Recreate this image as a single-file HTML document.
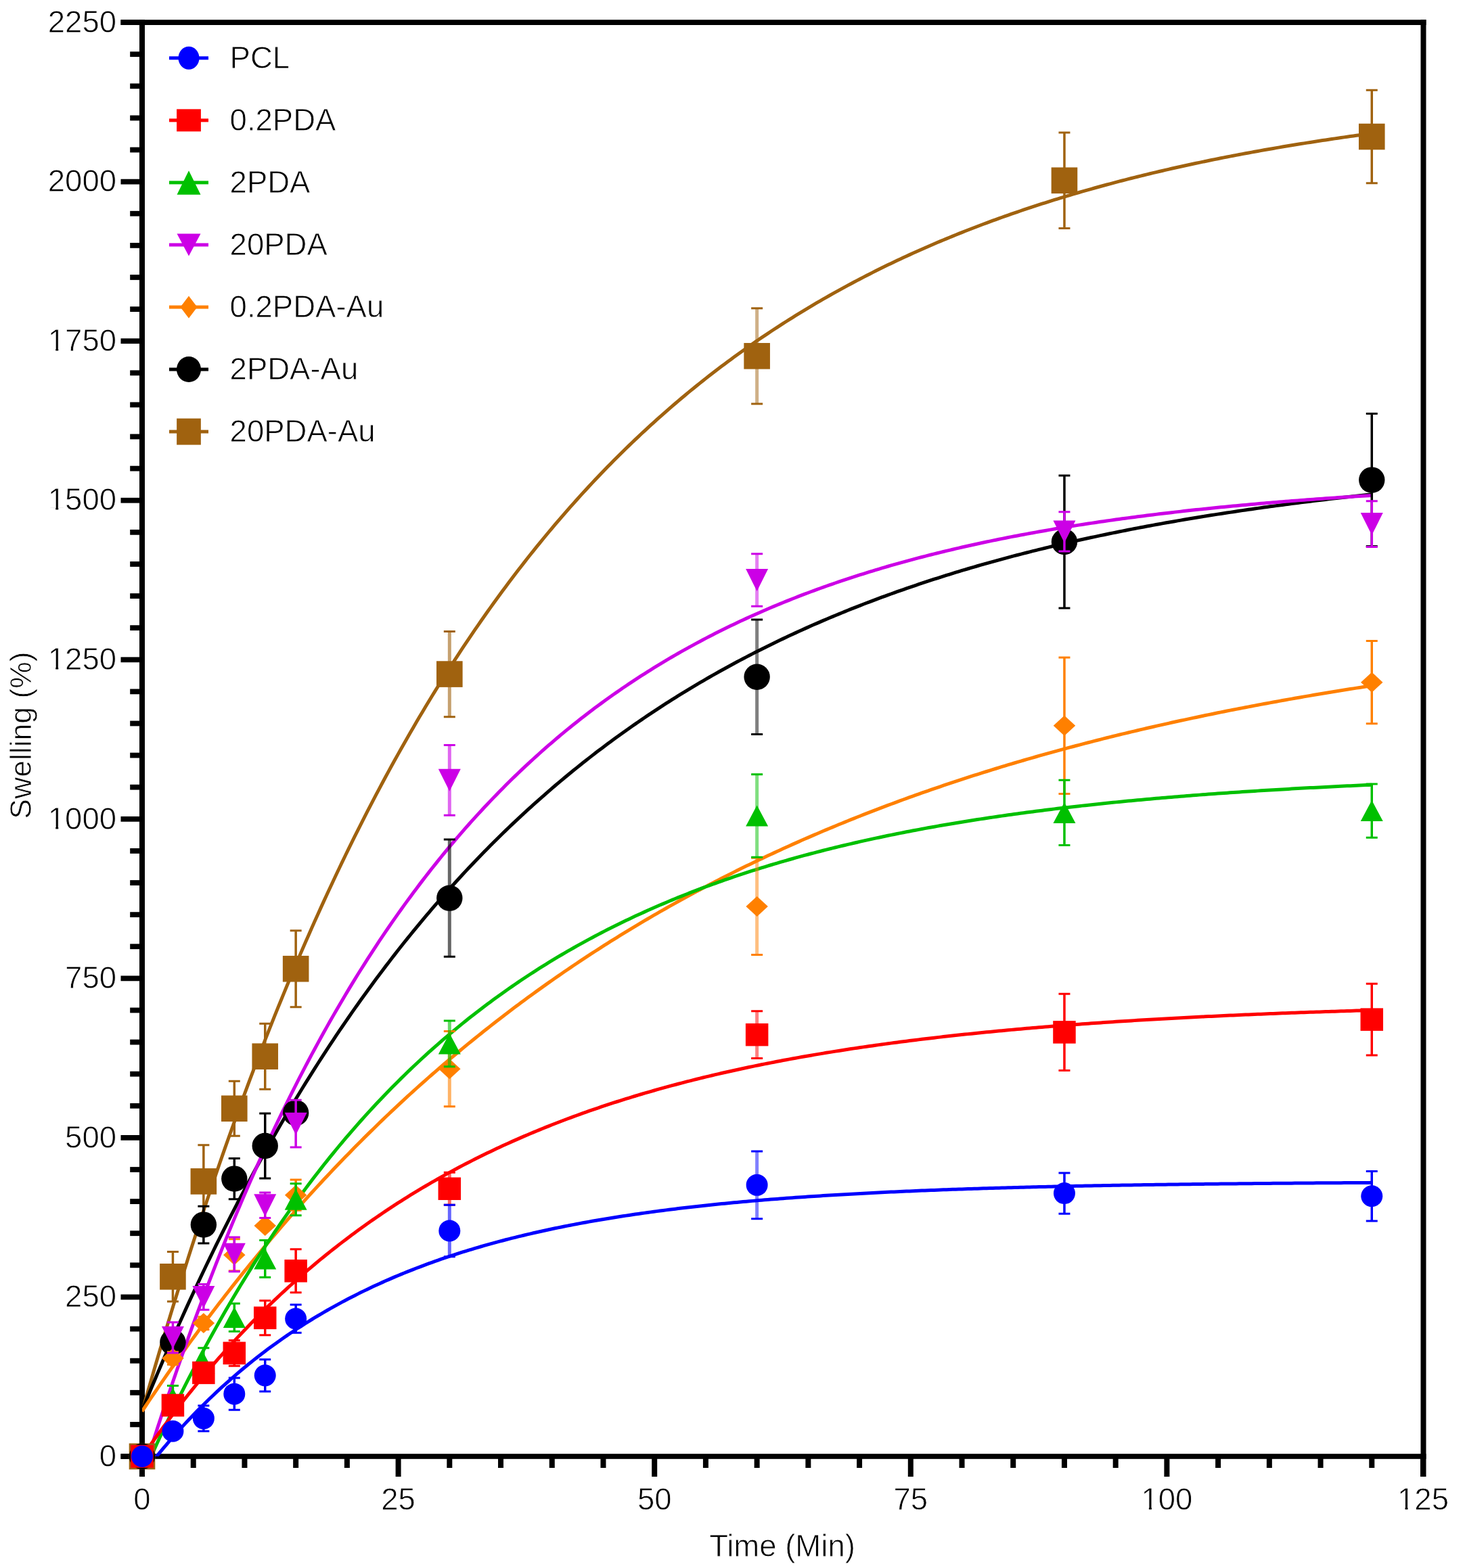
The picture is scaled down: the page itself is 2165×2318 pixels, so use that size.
<!DOCTYPE html><html><head><meta charset="utf-8"><style>html,body{margin:0;padding:0;background:#fff;}svg{display:block;}text{font-family:"Liberation Sans",Arial,sans-serif;fill:#000;stroke:#fff;stroke-width:0.8px;}</style></head><body>
<svg width="2165" height="2318" viewBox="0 0 2165 2318">
<rect width="2165" height="2318" fill="#fff"/>
<defs><clipPath id="pc"><rect x="210.0" y="33" width="1893.0" height="2120.0"/></clipPath></defs>
<g fill="#000">
<rect x="206" y="29" width="8" height="2154"/>
<rect x="2099.5" y="29" width="8" height="2154"/>
<rect x="178.5" y="29.2" width="1929.0" height="7.8"/>
<rect x="178.5" y="2149.2" width="1929.0" height="7.6"/>
<rect x="178.5" y="2149.10" width="30" height="7.8"/>
<rect x="192.2" y="2101.99" width="16" height="7.8"/>
<rect x="192.2" y="2054.88" width="16" height="7.8"/>
<rect x="192.2" y="2007.77" width="16" height="7.8"/>
<rect x="192.2" y="1960.66" width="16" height="7.8"/>
<rect x="178.5" y="1913.55" width="30" height="7.8"/>
<rect x="192.2" y="1866.45" width="16" height="7.8"/>
<rect x="192.2" y="1819.34" width="16" height="7.8"/>
<rect x="192.2" y="1772.23" width="16" height="7.8"/>
<rect x="192.2" y="1725.12" width="16" height="7.8"/>
<rect x="178.5" y="1678.01" width="30" height="7.8"/>
<rect x="192.2" y="1630.90" width="16" height="7.8"/>
<rect x="192.2" y="1583.79" width="16" height="7.8"/>
<rect x="192.2" y="1536.68" width="16" height="7.8"/>
<rect x="192.2" y="1489.57" width="16" height="7.8"/>
<rect x="178.5" y="1442.46" width="30" height="7.8"/>
<rect x="192.2" y="1395.36" width="16" height="7.8"/>
<rect x="192.2" y="1348.25" width="16" height="7.8"/>
<rect x="192.2" y="1301.14" width="16" height="7.8"/>
<rect x="192.2" y="1254.03" width="16" height="7.8"/>
<rect x="178.5" y="1206.92" width="30" height="7.8"/>
<rect x="192.2" y="1159.81" width="16" height="7.8"/>
<rect x="192.2" y="1112.70" width="16" height="7.8"/>
<rect x="192.2" y="1065.59" width="16" height="7.8"/>
<rect x="192.2" y="1018.48" width="16" height="7.8"/>
<rect x="178.5" y="971.38" width="30" height="7.8"/>
<rect x="192.2" y="924.27" width="16" height="7.8"/>
<rect x="192.2" y="877.16" width="16" height="7.8"/>
<rect x="192.2" y="830.05" width="16" height="7.8"/>
<rect x="192.2" y="782.94" width="16" height="7.8"/>
<rect x="178.5" y="735.83" width="30" height="7.8"/>
<rect x="192.2" y="688.72" width="16" height="7.8"/>
<rect x="192.2" y="641.61" width="16" height="7.8"/>
<rect x="192.2" y="594.50" width="16" height="7.8"/>
<rect x="192.2" y="547.39" width="16" height="7.8"/>
<rect x="178.5" y="500.28" width="30" height="7.8"/>
<rect x="192.2" y="453.18" width="16" height="7.8"/>
<rect x="192.2" y="406.07" width="16" height="7.8"/>
<rect x="192.2" y="358.96" width="16" height="7.8"/>
<rect x="192.2" y="311.85" width="16" height="7.8"/>
<rect x="178.5" y="264.74" width="30" height="7.8"/>
<rect x="192.2" y="217.63" width="16" height="7.8"/>
<rect x="192.2" y="170.52" width="16" height="7.8"/>
<rect x="192.2" y="123.41" width="16" height="7.8"/>
<rect x="192.2" y="76.30" width="16" height="7.8"/>
<rect x="178.5" y="29.19" width="30" height="7.8"/>
<rect x="206.00" y="2152" width="8" height="31"/>
<rect x="281.72" y="2152" width="8" height="18"/>
<rect x="357.44" y="2152" width="8" height="18"/>
<rect x="433.16" y="2152" width="8" height="18"/>
<rect x="508.88" y="2152" width="8" height="18"/>
<rect x="584.60" y="2152" width="8" height="31"/>
<rect x="660.32" y="2152" width="8" height="18"/>
<rect x="736.04" y="2152" width="8" height="18"/>
<rect x="811.76" y="2152" width="8" height="18"/>
<rect x="887.48" y="2152" width="8" height="18"/>
<rect x="963.20" y="2152" width="8" height="31"/>
<rect x="1038.92" y="2152" width="8" height="18"/>
<rect x="1114.64" y="2152" width="8" height="18"/>
<rect x="1190.36" y="2152" width="8" height="18"/>
<rect x="1266.08" y="2152" width="8" height="18"/>
<rect x="1341.80" y="2152" width="8" height="31"/>
<rect x="1417.52" y="2152" width="8" height="18"/>
<rect x="1493.24" y="2152" width="8" height="18"/>
<rect x="1568.96" y="2152" width="8" height="18"/>
<rect x="1644.68" y="2152" width="8" height="18"/>
<rect x="1720.40" y="2152" width="8" height="31"/>
<rect x="1796.12" y="2152" width="8" height="18"/>
<rect x="1871.84" y="2152" width="8" height="18"/>
<rect x="1947.56" y="2152" width="8" height="18"/>
<rect x="2023.28" y="2152" width="8" height="18"/>
<rect x="2099.00" y="2152" width="8" height="31"/>
</g>
<g clip-path="url(#pc)" fill="none" stroke-width="5" stroke-linejoin="round">
<path d="M210.00,2087.08 L214.55,2070.99 L219.11,2055.03 L223.66,2039.20 L228.22,2023.51 L232.77,2007.94 L237.33,1992.49 L241.88,1977.18 L246.44,1961.99 L250.99,1946.92 L255.55,1931.98 L260.10,1917.16 L264.66,1902.46 L269.21,1887.88 L273.76,1873.43 L278.32,1859.09 L282.87,1844.86 L287.43,1830.76 L291.98,1816.77 L296.54,1802.89 L301.09,1789.13 L305.65,1775.48 L310.20,1761.94 L314.76,1748.52 L319.31,1735.20 L323.86,1721.99 L328.42,1708.89 L332.97,1695.90 L337.53,1683.02 L342.08,1670.24 L346.64,1657.56 L351.19,1644.99 L355.75,1632.52 L360.30,1620.16 L364.86,1607.89 L369.41,1595.73 L373.97,1583.67 L378.52,1571.70 L383.07,1559.83 L387.63,1548.06 L392.18,1536.39 L396.74,1524.81 L401.29,1513.33 L405.85,1501.94 L410.40,1490.64 L414.96,1479.44 L419.51,1468.33 L424.07,1457.31 L428.62,1446.38 L433.17,1435.54 L437.73,1424.79 L442.28,1414.13 L446.84,1403.55 L451.39,1393.06 L455.95,1382.66 L460.50,1372.34 L465.06,1362.10 L469.61,1351.96 L474.17,1341.89 L478.72,1331.90 L483.28,1322.00 L487.83,1312.18 L492.38,1302.44 L496.94,1292.78 L501.49,1283.20 L506.05,1273.70 L510.60,1264.27 L515.16,1254.92 L519.71,1245.65 L524.27,1236.46 L528.82,1227.34 L533.38,1218.29 L537.93,1209.32 L542.48,1200.42 L547.04,1191.60 L551.59,1182.85 L556.15,1174.16 L560.70,1165.56 L565.26,1157.02 L569.81,1148.55 L574.37,1140.15 L578.92,1131.82 L583.48,1123.55 L588.03,1115.36 L592.59,1107.23 L597.14,1099.17 L601.69,1091.18 L606.25,1083.25 L610.80,1075.38 L615.36,1067.58 L619.91,1059.85 L624.47,1052.17 L629.02,1044.56 L633.58,1037.02 L638.13,1029.53 L642.69,1022.11 L647.24,1014.74 L651.79,1007.44 L656.35,1000.20 L660.90,993.01 L665.46,985.89 L670.01,978.82 L674.57,971.81 L679.12,964.86 L683.68,957.97 L688.23,951.13 L692.79,944.35 L697.34,937.62 L701.90,930.95 L706.45,924.34 L711.00,917.77 L715.56,911.26 L720.11,904.81 L724.67,898.41 L729.22,892.06 L733.78,885.76 L738.33,879.51 L742.89,873.32 L747.44,867.18 L752.00,861.08 L756.55,855.04 L761.10,849.04 L765.66,843.10 L770.21,837.20 L774.77,831.35 L779.32,825.55 L783.88,819.80 L788.43,814.10 L792.99,808.44 L797.54,802.83 L802.10,797.26 L806.65,791.74 L811.21,786.26 L815.76,780.83 L820.31,775.45 L824.87,770.10 L829.42,764.81 L833.98,759.55 L838.53,754.34 L843.09,749.17 L847.64,744.04 L852.20,738.96 L856.75,733.92 L861.31,728.91 L865.86,723.95 L870.42,719.03 L874.97,714.15 L879.52,709.31 L884.08,704.51 L888.63,699.75 L893.19,695.03 L897.74,690.35 L902.30,685.70 L906.85,681.10 L911.41,676.53 L915.96,672.00 L920.52,667.50 L925.07,663.05 L929.62,658.63 L934.18,654.24 L938.73,649.89 L943.29,645.58 L947.84,641.30 L952.40,637.06 L956.95,632.85 L961.51,628.68 L966.06,624.54 L970.62,620.43 L975.17,616.36 L979.73,612.32 L984.28,608.32 L988.83,604.35 L993.39,600.41 L997.94,596.50 L1002.50,592.62 L1007.05,588.78 L1011.61,584.97 L1016.16,581.19 L1020.72,577.44 L1025.27,573.72 L1029.83,570.03 L1034.38,566.37 L1038.93,562.74 L1043.49,559.14 L1048.04,555.57 L1052.60,552.03 L1057.15,548.52 L1061.71,545.04 L1066.26,541.59 L1070.82,538.16 L1075.37,534.76 L1079.93,531.39 L1084.48,528.05 L1089.04,524.74 L1093.59,521.45 L1098.14,518.19 L1102.70,514.95 L1107.25,511.75 L1111.81,508.57 L1116.36,505.41 L1120.92,502.28 L1125.47,499.18 L1130.03,496.10 L1134.58,493.05 L1139.14,490.02 L1143.69,487.02 L1148.24,484.04 L1152.80,481.09 L1157.35,478.16 L1161.91,475.25 L1166.46,472.37 L1171.02,469.51 L1175.57,466.68 L1180.13,463.86 L1184.68,461.08 L1189.24,458.31 L1193.79,455.57 L1198.35,452.85 L1202.90,450.15 L1207.45,447.47 L1212.01,444.82 L1216.56,442.18 L1221.12,439.57 L1225.67,436.98 L1230.23,434.42 L1234.78,431.87 L1239.34,429.34 L1243.89,426.84 L1248.45,424.35 L1253.00,421.89 L1257.55,419.44 L1262.11,417.02 L1266.66,414.61 L1271.22,412.23 L1275.77,409.86 L1280.33,407.52 L1284.88,405.19 L1289.44,402.88 L1293.99,400.59 L1298.55,398.32 L1303.10,396.07 L1307.66,393.84 L1312.21,391.62 L1316.76,389.43 L1321.32,387.25 L1325.87,385.09 L1330.43,382.95 L1334.98,380.82 L1339.54,378.71 L1344.09,376.62 L1348.65,374.55 L1353.20,372.49 L1357.76,370.45 L1362.31,368.43 L1366.86,366.42 L1371.42,364.43 L1375.97,362.46 L1380.53,360.50 L1385.08,358.56 L1389.64,356.63 L1394.19,354.72 L1398.75,352.83 L1403.30,350.95 L1407.86,349.09 L1412.41,347.24 L1416.97,345.41 L1421.52,343.59 L1426.07,341.79 L1430.63,340.00 L1435.18,338.23 L1439.74,336.47 L1444.29,334.72 L1448.85,332.99 L1453.40,331.28 L1457.96,329.57 L1462.51,327.89 L1467.07,326.21 L1471.62,324.55 L1476.18,322.90 L1480.73,321.27 L1485.28,319.65 L1489.84,318.04 L1494.39,316.45 L1498.95,314.87 L1503.50,313.30 L1508.06,311.75 L1512.61,310.21 L1517.17,308.68 L1521.72,307.16 L1526.28,305.66 L1530.83,304.16 L1535.38,302.68 L1539.94,301.22 L1544.49,299.76 L1549.05,298.32 L1553.60,296.88 L1558.16,295.46 L1562.71,294.06 L1567.27,292.66 L1571.82,291.27 L1576.38,289.90 L1580.93,288.54 L1585.49,287.18 L1590.04,285.84 L1594.59,284.51 L1599.15,283.20 L1603.70,281.89 L1608.26,280.59 L1612.81,279.30 L1617.37,278.03 L1621.92,276.76 L1626.48,275.51 L1631.03,274.26 L1635.59,273.03 L1640.14,271.80 L1644.69,270.59 L1649.25,269.38 L1653.80,268.19 L1658.36,267.00 L1662.91,265.83 L1667.47,264.66 L1672.02,263.51 L1676.58,262.36 L1681.13,261.22 L1685.69,260.09 L1690.24,258.98 L1694.80,257.87 L1699.35,256.77 L1703.90,255.68 L1708.46,254.59 L1713.01,253.52 L1717.57,252.45 L1722.12,251.40 L1726.68,250.35 L1731.23,249.31 L1735.79,248.28 L1740.34,247.26 L1744.90,246.25 L1749.45,245.24 L1754.00,244.24 L1758.56,243.26 L1763.11,242.27 L1767.67,241.30 L1772.22,240.34 L1776.78,239.38 L1781.33,238.43 L1785.89,237.49 L1790.44,236.56 L1795.00,235.63 L1799.55,234.71 L1804.11,233.80 L1808.66,232.90 L1813.21,232.00 L1817.77,231.12 L1822.32,230.23 L1826.88,229.36 L1831.43,228.49 L1835.99,227.63 L1840.54,226.78 L1845.10,225.94 L1849.65,225.10 L1854.21,224.27 L1858.76,223.44 L1863.31,222.62 L1867.87,221.81 L1872.42,221.01 L1876.98,220.21 L1881.53,219.42 L1886.09,218.63 L1890.64,217.85 L1895.20,217.08 L1899.75,216.31 L1904.31,215.55 L1908.86,214.80 L1913.42,214.05 L1917.97,213.31 L1922.52,212.58 L1927.08,211.85 L1931.63,211.12 L1936.19,210.41 L1940.74,209.69 L1945.30,208.99 L1949.85,208.29 L1954.41,207.59 L1958.96,206.91 L1963.52,206.22 L1968.07,205.55 L1972.62,204.87 L1977.18,204.21 L1981.73,203.55 L1986.29,202.89 L1990.84,202.24 L1995.40,201.60 L1999.95,200.96 L2004.51,200.32 L2009.06,199.70 L2013.62,199.07 L2018.17,198.45 L2022.73,197.84 L2027.28,197.23" stroke="#A0620F"/>
<path d="M210.00,2085.16 L214.55,2074.03 L219.11,2062.99 L223.66,2052.04 L228.22,2041.18 L232.77,2030.40 L237.33,2019.71 L241.88,2009.09 L246.44,1998.57 L250.99,1988.12 L255.55,1977.76 L260.10,1967.48 L264.66,1957.28 L269.21,1947.16 L273.76,1937.12 L278.32,1927.16 L282.87,1917.28 L287.43,1907.47 L291.98,1897.74 L296.54,1888.09 L301.09,1878.52 L305.65,1869.02 L310.20,1859.59 L314.76,1850.24 L319.31,1840.96 L323.86,1831.76 L328.42,1822.62 L332.97,1813.56 L337.53,1804.57 L342.08,1795.65 L346.64,1786.80 L351.19,1778.02 L355.75,1769.31 L360.30,1760.67 L364.86,1752.10 L369.41,1743.59 L373.97,1735.15 L378.52,1726.78 L383.07,1718.47 L387.63,1710.23 L392.18,1702.05 L396.74,1693.94 L401.29,1685.89 L405.85,1677.90 L410.40,1669.98 L414.96,1662.12 L419.51,1654.32 L424.07,1646.58 L428.62,1638.91 L433.17,1631.29 L437.73,1623.73 L442.28,1616.23 L446.84,1608.80 L451.39,1601.42 L455.95,1594.09 L460.50,1586.83 L465.06,1579.62 L469.61,1572.47 L474.17,1565.38 L478.72,1558.34 L483.28,1551.36 L487.83,1544.43 L492.38,1537.55 L496.94,1530.73 L501.49,1523.97 L506.05,1517.26 L510.60,1510.59 L515.16,1503.99 L519.71,1497.43 L524.27,1490.93 L528.82,1484.47 L533.38,1478.07 L537.93,1471.72 L542.48,1465.42 L547.04,1459.16 L551.59,1452.96 L556.15,1446.81 L560.70,1440.70 L565.26,1434.64 L569.81,1428.63 L574.37,1422.67 L578.92,1416.75 L583.48,1410.88 L588.03,1405.06 L592.59,1399.28 L597.14,1393.55 L601.69,1387.86 L606.25,1382.22 L610.80,1376.62 L615.36,1371.06 L619.91,1365.55 L624.47,1360.08 L629.02,1354.66 L633.58,1349.28 L638.13,1343.94 L642.69,1338.64 L647.24,1333.38 L651.79,1328.17 L656.35,1323.00 L660.90,1317.86 L665.46,1312.77 L670.01,1307.72 L674.57,1302.71 L679.12,1297.73 L683.68,1292.80 L688.23,1287.90 L692.79,1283.05 L697.34,1278.23 L701.90,1273.45 L706.45,1268.70 L711.00,1264.00 L715.56,1259.33 L720.11,1254.69 L724.67,1250.10 L729.22,1245.54 L733.78,1241.01 L738.33,1236.53 L742.89,1232.07 L747.44,1227.65 L752.00,1223.27 L756.55,1218.92 L761.10,1214.61 L765.66,1210.33 L770.21,1206.08 L774.77,1201.87 L779.32,1197.69 L783.88,1193.54 L788.43,1189.42 L792.99,1185.34 L797.54,1181.29 L802.10,1177.27 L806.65,1173.28 L811.21,1169.33 L815.76,1165.40 L820.31,1161.51 L824.87,1157.65 L829.42,1153.81 L833.98,1150.01 L838.53,1146.24 L843.09,1142.49 L847.64,1138.78 L852.20,1135.09 L856.75,1131.44 L861.31,1127.81 L865.86,1124.21 L870.42,1120.64 L874.97,1117.10 L879.52,1113.59 L884.08,1110.10 L888.63,1106.64 L893.19,1103.21 L897.74,1099.80 L902.30,1096.43 L906.85,1093.07 L911.41,1089.75 L915.96,1086.45 L920.52,1083.18 L925.07,1079.93 L929.62,1076.71 L934.18,1073.51 L938.73,1070.34 L943.29,1067.19 L947.84,1064.07 L952.40,1060.97 L956.95,1057.90 L961.51,1054.85 L966.06,1051.83 L970.62,1048.83 L975.17,1045.85 L979.73,1042.89 L984.28,1039.96 L988.83,1037.06 L993.39,1034.17 L997.94,1031.31 L1002.50,1028.47 L1007.05,1025.65 L1011.61,1022.86 L1016.16,1020.08 L1020.72,1017.33 L1025.27,1014.60 L1029.83,1011.89 L1034.38,1009.21 L1038.93,1006.54 L1043.49,1003.90 L1048.04,1001.27 L1052.60,998.67 L1057.15,996.08 L1061.71,993.52 L1066.26,990.98 L1070.82,988.46 L1075.37,985.95 L1079.93,983.47 L1084.48,981.01 L1089.04,978.56 L1093.59,976.14 L1098.14,973.73 L1102.70,971.35 L1107.25,968.98 L1111.81,966.63 L1116.36,964.30 L1120.92,961.98 L1125.47,959.69 L1130.03,957.41 L1134.58,955.15 L1139.14,952.91 L1143.69,950.69 L1148.24,948.48 L1152.80,946.29 L1157.35,944.12 L1161.91,941.97 L1166.46,939.83 L1171.02,937.71 L1175.57,935.61 L1180.13,933.52 L1184.68,931.45 L1189.24,929.39 L1193.79,927.36 L1198.35,925.33 L1202.90,923.33 L1207.45,921.34 L1212.01,919.36 L1216.56,917.40 L1221.12,915.46 L1225.67,913.53 L1230.23,911.61 L1234.78,909.72 L1239.34,907.83 L1243.89,905.96 L1248.45,904.11 L1253.00,902.27 L1257.55,900.44 L1262.11,898.63 L1266.66,896.84 L1271.22,895.05 L1275.77,893.29 L1280.33,891.53 L1284.88,889.79 L1289.44,888.06 L1293.99,886.35 L1298.55,884.65 L1303.10,882.96 L1307.66,881.29 L1312.21,879.63 L1316.76,877.98 L1321.32,876.35 L1325.87,874.73 L1330.43,873.12 L1334.98,871.52 L1339.54,869.94 L1344.09,868.37 L1348.65,866.81 L1353.20,865.26 L1357.76,863.73 L1362.31,862.21 L1366.86,860.70 L1371.42,859.20 L1375.97,857.71 L1380.53,856.24 L1385.08,854.77 L1389.64,853.32 L1394.19,851.88 L1398.75,850.45 L1403.30,849.03 L1407.86,847.63 L1412.41,846.23 L1416.97,844.85 L1421.52,843.47 L1426.07,842.11 L1430.63,840.76 L1435.18,839.42 L1439.74,838.08 L1444.29,836.76 L1448.85,835.45 L1453.40,834.15 L1457.96,832.86 L1462.51,831.58 L1467.07,830.32 L1471.62,829.06 L1476.18,827.81 L1480.73,826.57 L1485.28,825.34 L1489.84,824.12 L1494.39,822.91 L1498.95,821.70 L1503.50,820.51 L1508.06,819.33 L1512.61,818.16 L1517.17,816.99 L1521.72,815.84 L1526.28,814.69 L1530.83,813.56 L1535.38,812.43 L1539.94,811.31 L1544.49,810.20 L1549.05,809.10 L1553.60,808.00 L1558.16,806.92 L1562.71,805.85 L1567.27,804.78 L1571.82,803.72 L1576.38,802.67 L1580.93,801.63 L1585.49,800.59 L1590.04,799.57 L1594.59,798.55 L1599.15,797.54 L1603.70,796.54 L1608.26,795.54 L1612.81,794.56 L1617.37,793.58 L1621.92,792.61 L1626.48,791.65 L1631.03,790.69 L1635.59,789.74 L1640.14,788.80 L1644.69,787.87 L1649.25,786.94 L1653.80,786.02 L1658.36,785.11 L1662.91,784.21 L1667.47,783.31 L1672.02,782.42 L1676.58,781.54 L1681.13,780.66 L1685.69,779.79 L1690.24,778.93 L1694.80,778.08 L1699.35,777.23 L1703.90,776.38 L1708.46,775.55 L1713.01,774.72 L1717.57,773.90 L1722.12,773.08 L1726.68,772.27 L1731.23,771.47 L1735.79,770.67 L1740.34,769.88 L1744.90,769.10 L1749.45,768.32 L1754.00,767.55 L1758.56,766.78 L1763.11,766.02 L1767.67,765.27 L1772.22,764.52 L1776.78,763.78 L1781.33,763.04 L1785.89,762.31 L1790.44,761.58 L1795.00,760.87 L1799.55,760.15 L1804.11,759.44 L1808.66,758.74 L1813.21,758.05 L1817.77,757.35 L1822.32,756.67 L1826.88,755.99 L1831.43,755.31 L1835.99,754.64 L1840.54,753.98 L1845.10,753.32 L1849.65,752.66 L1854.21,752.02 L1858.76,751.37 L1863.31,750.73 L1867.87,750.10 L1872.42,749.47 L1876.98,748.85 L1881.53,748.23 L1886.09,747.61 L1890.64,747.00 L1895.20,746.40 L1899.75,745.80 L1904.31,745.20 L1908.86,744.61 L1913.42,744.03 L1917.97,743.45 L1922.52,742.87 L1927.08,742.30 L1931.63,741.73 L1936.19,741.17 L1940.74,740.61 L1945.30,740.06 L1949.85,739.51 L1954.41,738.96 L1958.96,738.42 L1963.52,737.88 L1968.07,737.35 L1972.62,736.82 L1977.18,736.30 L1981.73,735.78 L1986.29,735.26 L1990.84,734.75 L1995.40,734.24 L1999.95,733.73 L2004.51,733.23 L2009.06,732.74 L2013.62,732.25 L2018.17,731.76 L2022.73,731.27 L2027.28,730.79" stroke="#000000"/>
<path d="M210.00,2086.32 L214.55,2079.49 L219.11,2072.70 L223.66,2065.95 L228.22,2059.24 L232.77,2052.57 L237.33,2045.93 L241.88,2039.33 L246.44,2032.77 L250.99,2026.25 L255.55,2019.77 L260.10,2013.32 L264.66,2006.91 L269.21,2000.53 L273.76,1994.19 L278.32,1987.89 L282.87,1981.63 L287.43,1975.40 L291.98,1969.20 L296.54,1963.04 L301.09,1956.92 L305.65,1950.83 L310.20,1944.78 L314.76,1938.76 L319.31,1932.77 L323.86,1926.82 L328.42,1920.91 L332.97,1915.03 L337.53,1909.18 L342.08,1903.36 L346.64,1897.58 L351.19,1891.83 L355.75,1886.11 L360.30,1880.43 L364.86,1874.78 L369.41,1869.16 L373.97,1863.57 L378.52,1858.02 L383.07,1852.50 L387.63,1847.01 L392.18,1841.55 L396.74,1836.12 L401.29,1830.72 L405.85,1825.35 L410.40,1820.02 L414.96,1814.71 L419.51,1809.44 L424.07,1804.19 L428.62,1798.98 L433.17,1793.79 L437.73,1788.64 L442.28,1783.51 L446.84,1778.42 L451.39,1773.35 L455.95,1768.31 L460.50,1763.30 L465.06,1758.32 L469.61,1753.37 L474.17,1748.44 L478.72,1743.55 L483.28,1738.68 L487.83,1733.84 L492.38,1729.03 L496.94,1724.24 L501.49,1719.49 L506.05,1714.76 L510.60,1710.05 L515.16,1705.38 L519.71,1700.73 L524.27,1696.10 L528.82,1691.51 L533.38,1686.94 L537.93,1682.39 L542.48,1677.88 L547.04,1673.38 L551.59,1668.92 L556.15,1664.48 L560.70,1660.06 L565.26,1655.67 L569.81,1651.30 L574.37,1646.96 L578.92,1642.65 L583.48,1638.36 L588.03,1634.09 L592.59,1629.85 L597.14,1625.63 L601.69,1621.44 L606.25,1617.27 L610.80,1613.13 L615.36,1609.00 L619.91,1604.91 L624.47,1600.83 L629.02,1596.78 L633.58,1592.75 L638.13,1588.75 L642.69,1584.76 L647.24,1580.80 L651.79,1576.87 L656.35,1572.95 L660.90,1569.06 L665.46,1565.19 L670.01,1561.34 L674.57,1557.52 L679.12,1553.72 L683.68,1549.93 L688.23,1546.17 L692.79,1542.43 L697.34,1538.72 L701.90,1535.02 L706.45,1531.35 L711.00,1527.69 L715.56,1524.06 L720.11,1520.45 L724.67,1516.86 L729.22,1513.28 L733.78,1509.73 L738.33,1506.20 L742.89,1502.69 L747.44,1499.20 L752.00,1495.73 L756.55,1492.28 L761.10,1488.85 L765.66,1485.44 L770.21,1482.05 L774.77,1478.68 L779.32,1475.33 L783.88,1471.99 L788.43,1468.68 L792.99,1465.38 L797.54,1462.11 L802.10,1458.85 L806.65,1455.61 L811.21,1452.39 L815.76,1449.19 L820.31,1446.00 L824.87,1442.84 L829.42,1439.69 L833.98,1436.56 L838.53,1433.45 L843.09,1430.36 L847.64,1427.28 L852.20,1424.22 L856.75,1421.18 L861.31,1418.16 L865.86,1415.15 L870.42,1412.16 L874.97,1409.19 L879.52,1406.23 L884.08,1403.30 L888.63,1400.37 L893.19,1397.47 L897.74,1394.58 L902.30,1391.71 L906.85,1388.85 L911.41,1386.02 L915.96,1383.19 L920.52,1380.39 L925.07,1377.60 L929.62,1374.82 L934.18,1372.06 L938.73,1369.32 L943.29,1366.59 L947.84,1363.88 L952.40,1361.19 L956.95,1358.51 L961.51,1355.84 L966.06,1353.19 L970.62,1350.56 L975.17,1347.94 L979.73,1345.33 L984.28,1342.74 L988.83,1340.17 L993.39,1337.61 L997.94,1335.06 L1002.50,1332.53 L1007.05,1330.01 L1011.61,1327.51 L1016.16,1325.03 L1020.72,1322.55 L1025.27,1320.09 L1029.83,1317.65 L1034.38,1315.22 L1038.93,1312.80 L1043.49,1310.39 L1048.04,1308.00 L1052.60,1305.63 L1057.15,1303.27 L1061.71,1300.92 L1066.26,1298.58 L1070.82,1296.26 L1075.37,1293.95 L1079.93,1291.65 L1084.48,1289.37 L1089.04,1287.10 L1093.59,1284.84 L1098.14,1282.60 L1102.70,1280.37 L1107.25,1278.15 L1111.81,1275.95 L1116.36,1273.75 L1120.92,1271.57 L1125.47,1269.41 L1130.03,1267.25 L1134.58,1265.11 L1139.14,1262.98 L1143.69,1260.86 L1148.24,1258.75 L1152.80,1256.66 L1157.35,1254.57 L1161.91,1252.50 L1166.46,1250.45 L1171.02,1248.40 L1175.57,1246.36 L1180.13,1244.34 L1184.68,1242.33 L1189.24,1240.33 L1193.79,1238.34 L1198.35,1236.36 L1202.90,1234.39 L1207.45,1232.44 L1212.01,1230.50 L1216.56,1228.56 L1221.12,1226.64 L1225.67,1224.73 L1230.23,1222.83 L1234.78,1220.94 L1239.34,1219.06 L1243.89,1217.20 L1248.45,1215.34 L1253.00,1213.49 L1257.55,1211.66 L1262.11,1209.83 L1266.66,1208.02 L1271.22,1206.21 L1275.77,1204.42 L1280.33,1202.64 L1284.88,1200.86 L1289.44,1199.10 L1293.99,1197.35 L1298.55,1195.60 L1303.10,1193.87 L1307.66,1192.15 L1312.21,1190.43 L1316.76,1188.73 L1321.32,1187.04 L1325.87,1185.35 L1330.43,1183.68 L1334.98,1182.01 L1339.54,1180.36 L1344.09,1178.71 L1348.65,1177.07 L1353.20,1175.45 L1357.76,1173.83 L1362.31,1172.22 L1366.86,1170.62 L1371.42,1169.03 L1375.97,1167.45 L1380.53,1165.88 L1385.08,1164.32 L1389.64,1162.76 L1394.19,1161.22 L1398.75,1159.68 L1403.30,1158.15 L1407.86,1156.63 L1412.41,1155.12 L1416.97,1153.62 L1421.52,1152.13 L1426.07,1150.64 L1430.63,1149.17 L1435.18,1147.70 L1439.74,1146.24 L1444.29,1144.79 L1448.85,1143.35 L1453.40,1141.91 L1457.96,1140.49 L1462.51,1139.07 L1467.07,1137.66 L1471.62,1136.26 L1476.18,1134.86 L1480.73,1133.48 L1485.28,1132.10 L1489.84,1130.73 L1494.39,1129.37 L1498.95,1128.01 L1503.50,1126.67 L1508.06,1125.33 L1512.61,1124.00 L1517.17,1122.67 L1521.72,1121.36 L1526.28,1120.05 L1530.83,1118.75 L1535.38,1117.46 L1539.94,1116.17 L1544.49,1114.89 L1549.05,1113.62 L1553.60,1112.36 L1558.16,1111.10 L1562.71,1109.85 L1567.27,1108.61 L1571.82,1107.37 L1576.38,1106.14 L1580.93,1104.92 L1585.49,1103.71 L1590.04,1102.50 L1594.59,1101.30 L1599.15,1100.10 L1603.70,1098.92 L1608.26,1097.74 L1612.81,1096.56 L1617.37,1095.40 L1621.92,1094.24 L1626.48,1093.08 L1631.03,1091.94 L1635.59,1090.80 L1640.14,1089.66 L1644.69,1088.54 L1649.25,1087.42 L1653.80,1086.30 L1658.36,1085.19 L1662.91,1084.09 L1667.47,1083.00 L1672.02,1081.91 L1676.58,1080.83 L1681.13,1079.75 L1685.69,1078.68 L1690.24,1077.61 L1694.80,1076.56 L1699.35,1075.50 L1703.90,1074.46 L1708.46,1073.42 L1713.01,1072.38 L1717.57,1071.36 L1722.12,1070.33 L1726.68,1069.32 L1731.23,1068.31 L1735.79,1067.30 L1740.34,1066.30 L1744.90,1065.31 L1749.45,1064.32 L1754.00,1063.34 L1758.56,1062.36 L1763.11,1061.39 L1767.67,1060.43 L1772.22,1059.47 L1776.78,1058.51 L1781.33,1057.56 L1785.89,1056.62 L1790.44,1055.68 L1795.00,1054.75 L1799.55,1053.82 L1804.11,1052.90 L1808.66,1051.98 L1813.21,1051.07 L1817.77,1050.16 L1822.32,1049.26 L1826.88,1048.37 L1831.43,1047.48 L1835.99,1046.59 L1840.54,1045.71 L1845.10,1044.83 L1849.65,1043.96 L1854.21,1043.10 L1858.76,1042.24 L1863.31,1041.38 L1867.87,1040.53 L1872.42,1039.68 L1876.98,1038.84 L1881.53,1038.01 L1886.09,1037.18 L1890.64,1036.35 L1895.20,1035.53 L1899.75,1034.71 L1904.31,1033.90 L1908.86,1033.09 L1913.42,1032.28 L1917.97,1031.49 L1922.52,1030.69 L1927.08,1029.90 L1931.63,1029.12 L1936.19,1028.34 L1940.74,1027.56 L1945.30,1026.79 L1949.85,1026.02 L1954.41,1025.26 L1958.96,1024.50 L1963.52,1023.74 L1968.07,1022.99 L1972.62,1022.25 L1977.18,1021.51 L1981.73,1020.77 L1986.29,1020.04 L1990.84,1019.31 L1995.40,1018.58 L1999.95,1017.86 L2004.51,1017.15 L2009.06,1016.43 L2013.62,1015.73 L2018.17,1015.02 L2022.73,1014.32 L2027.28,1013.63" stroke="#FF8000"/>
<path d="M210.00,2182.70 L214.55,2168.05 L219.11,2153.54 L223.66,2139.18 L228.22,2124.96 L232.77,2110.88 L237.33,2096.94 L241.88,2083.14 L246.44,2069.47 L250.99,2055.94 L255.55,2042.55 L260.10,2029.29 L264.66,2016.15 L269.21,2003.15 L273.76,1990.28 L278.32,1977.54 L282.87,1964.92 L287.43,1952.43 L291.98,1940.06 L296.54,1927.81 L301.09,1915.69 L305.65,1903.68 L310.20,1891.80 L314.76,1880.03 L319.31,1868.38 L323.86,1856.84 L328.42,1845.42 L332.97,1834.11 L337.53,1822.91 L342.08,1811.83 L346.64,1800.85 L351.19,1789.99 L355.75,1779.23 L360.30,1768.58 L364.86,1758.03 L369.41,1747.59 L373.97,1737.25 L378.52,1727.01 L383.07,1716.88 L387.63,1706.84 L392.18,1696.91 L396.74,1687.07 L401.29,1677.33 L405.85,1667.69 L410.40,1658.15 L414.96,1648.69 L419.51,1639.34 L424.07,1630.07 L428.62,1620.90 L433.17,1611.81 L437.73,1602.82 L442.28,1593.92 L446.84,1585.10 L451.39,1576.37 L455.95,1567.73 L460.50,1559.18 L465.06,1550.71 L469.61,1542.32 L474.17,1534.02 L478.72,1525.79 L483.28,1517.65 L487.83,1509.60 L492.38,1501.62 L496.94,1493.72 L501.49,1485.89 L506.05,1478.15 L510.60,1470.48 L515.16,1462.89 L519.71,1455.37 L524.27,1447.93 L528.82,1440.56 L533.38,1433.27 L537.93,1426.05 L542.48,1418.89 L547.04,1411.81 L551.59,1404.80 L556.15,1397.86 L560.70,1390.99 L565.26,1384.19 L569.81,1377.45 L574.37,1370.78 L578.92,1364.18 L583.48,1357.64 L588.03,1351.17 L592.59,1344.76 L597.14,1338.41 L601.69,1332.13 L606.25,1325.91 L610.80,1319.75 L615.36,1313.65 L619.91,1307.62 L624.47,1301.64 L629.02,1295.72 L633.58,1289.86 L638.13,1284.06 L642.69,1278.32 L647.24,1272.63 L651.79,1267.00 L656.35,1261.43 L660.90,1255.91 L665.46,1250.44 L670.01,1245.03 L674.57,1239.67 L679.12,1234.37 L683.68,1229.12 L688.23,1223.92 L692.79,1218.77 L697.34,1213.68 L701.90,1208.63 L706.45,1203.63 L711.00,1198.69 L715.56,1193.79 L720.11,1188.94 L724.67,1184.14 L729.22,1179.39 L733.78,1174.68 L738.33,1170.02 L742.89,1165.41 L747.44,1160.84 L752.00,1156.32 L756.55,1151.84 L761.10,1147.41 L765.66,1143.02 L770.21,1138.67 L774.77,1134.37 L779.32,1130.11 L783.88,1125.89 L788.43,1121.72 L792.99,1117.58 L797.54,1113.49 L802.10,1109.44 L806.65,1105.42 L811.21,1101.45 L815.76,1097.52 L820.31,1093.62 L824.87,1089.77 L829.42,1085.95 L833.98,1082.17 L838.53,1078.43 L843.09,1074.72 L847.64,1071.05 L852.20,1067.42 L856.75,1063.82 L861.31,1060.26 L865.86,1056.74 L870.42,1053.25 L874.97,1049.79 L879.52,1046.37 L884.08,1042.98 L888.63,1039.63 L893.19,1036.31 L897.74,1033.02 L902.30,1029.76 L906.85,1026.54 L911.41,1023.35 L915.96,1020.19 L920.52,1017.06 L925.07,1013.97 L929.62,1010.90 L934.18,1007.86 L938.73,1004.86 L943.29,1001.88 L947.84,998.93 L952.40,996.02 L956.95,993.13 L961.51,990.27 L966.06,987.44 L970.62,984.63 L975.17,981.86 L979.73,979.11 L984.28,976.39 L988.83,973.69 L993.39,971.03 L997.94,968.39 L1002.50,965.77 L1007.05,963.18 L1011.61,960.62 L1016.16,958.08 L1020.72,955.57 L1025.27,953.08 L1029.83,950.62 L1034.38,948.18 L1038.93,945.77 L1043.49,943.38 L1048.04,941.01 L1052.60,938.67 L1057.15,936.35 L1061.71,934.05 L1066.26,931.78 L1070.82,929.52 L1075.37,927.30 L1079.93,925.09 L1084.48,922.90 L1089.04,920.74 L1093.59,918.60 L1098.14,916.48 L1102.70,914.38 L1107.25,912.30 L1111.81,910.24 L1116.36,908.20 L1120.92,906.18 L1125.47,904.18 L1130.03,902.21 L1134.58,900.25 L1139.14,898.31 L1143.69,896.39 L1148.24,894.49 L1152.80,892.60 L1157.35,890.74 L1161.91,888.90 L1166.46,887.07 L1171.02,885.26 L1175.57,883.47 L1180.13,881.70 L1184.68,879.94 L1189.24,878.20 L1193.79,876.48 L1198.35,874.78 L1202.90,873.09 L1207.45,871.42 L1212.01,869.77 L1216.56,868.13 L1221.12,866.51 L1225.67,864.91 L1230.23,863.32 L1234.78,861.75 L1239.34,860.19 L1243.89,858.65 L1248.45,857.12 L1253.00,855.61 L1257.55,854.11 L1262.11,852.63 L1266.66,851.16 L1271.22,849.71 L1275.77,848.27 L1280.33,846.85 L1284.88,845.44 L1289.44,844.04 L1293.99,842.66 L1298.55,841.29 L1303.10,839.94 L1307.66,838.60 L1312.21,837.27 L1316.76,835.95 L1321.32,834.65 L1325.87,833.36 L1330.43,832.09 L1334.98,830.82 L1339.54,829.57 L1344.09,828.33 L1348.65,827.11 L1353.20,825.89 L1357.76,824.69 L1362.31,823.50 L1366.86,822.32 L1371.42,821.16 L1375.97,820.00 L1380.53,818.86 L1385.08,817.72 L1389.64,816.60 L1394.19,815.49 L1398.75,814.39 L1403.30,813.31 L1407.86,812.23 L1412.41,811.16 L1416.97,810.11 L1421.52,809.06 L1426.07,808.03 L1430.63,807.00 L1435.18,805.99 L1439.74,804.98 L1444.29,803.99 L1448.85,803.00 L1453.40,802.03 L1457.96,801.06 L1462.51,800.10 L1467.07,799.16 L1471.62,798.22 L1476.18,797.29 L1480.73,796.37 L1485.28,795.46 L1489.84,794.56 L1494.39,793.67 L1498.95,792.79 L1503.50,791.92 L1508.06,791.05 L1512.61,790.19 L1517.17,789.35 L1521.72,788.51 L1526.28,787.67 L1530.83,786.85 L1535.38,786.04 L1539.94,785.23 L1544.49,784.43 L1549.05,783.64 L1553.60,782.86 L1558.16,782.08 L1562.71,781.31 L1567.27,780.55 L1571.82,779.80 L1576.38,779.05 L1580.93,778.32 L1585.49,777.59 L1590.04,776.86 L1594.59,776.15 L1599.15,775.44 L1603.70,774.74 L1608.26,774.04 L1612.81,773.35 L1617.37,772.67 L1621.92,772.00 L1626.48,771.33 L1631.03,770.67 L1635.59,770.01 L1640.14,769.37 L1644.69,768.72 L1649.25,768.09 L1653.80,767.46 L1658.36,766.84 L1662.91,766.22 L1667.47,765.61 L1672.02,765.00 L1676.58,764.41 L1681.13,763.81 L1685.69,763.23 L1690.24,762.65 L1694.80,762.07 L1699.35,761.50 L1703.90,760.94 L1708.46,760.38 L1713.01,759.83 L1717.57,759.28 L1722.12,758.74 L1726.68,758.20 L1731.23,757.67 L1735.79,757.14 L1740.34,756.62 L1744.90,756.11 L1749.45,755.60 L1754.00,755.09 L1758.56,754.59 L1763.11,754.10 L1767.67,753.61 L1772.22,753.12 L1776.78,752.64 L1781.33,752.16 L1785.89,751.69 L1790.44,751.23 L1795.00,750.76 L1799.55,750.31 L1804.11,749.85 L1808.66,749.41 L1813.21,748.96 L1817.77,748.52 L1822.32,748.09 L1826.88,747.66 L1831.43,747.23 L1835.99,746.81 L1840.54,746.39 L1845.10,745.98 L1849.65,745.57 L1854.21,745.16 L1858.76,744.76 L1863.31,744.36 L1867.87,743.97 L1872.42,743.58 L1876.98,743.19 L1881.53,742.81 L1886.09,742.43 L1890.64,742.05 L1895.20,741.68 L1899.75,741.32 L1904.31,740.95 L1908.86,740.59 L1913.42,740.24 L1917.97,739.88 L1922.52,739.53 L1927.08,739.19 L1931.63,738.84 L1936.19,738.51 L1940.74,738.17 L1945.30,737.84 L1949.85,737.51 L1954.41,737.18 L1958.96,736.86 L1963.52,736.54 L1968.07,736.22 L1972.62,735.91 L1977.18,735.60 L1981.73,735.29 L1986.29,734.99 L1990.84,734.69 L1995.40,734.39 L1999.95,734.09 L2004.51,733.80 L2009.06,733.51 L2013.62,733.23 L2018.17,732.94 L2022.73,732.66 L2027.28,732.39" stroke="#CC00E6"/>
<path d="M210.00,2182.59 L214.55,2172.33 L219.11,2162.17 L223.66,2152.12 L228.22,2142.16 L232.77,2132.30 L237.33,2122.54 L241.88,2112.87 L246.44,2103.30 L250.99,2093.82 L255.55,2084.44 L260.10,2075.15 L264.66,2065.95 L269.21,2056.84 L273.76,2047.82 L278.32,2038.89 L282.87,2030.05 L287.43,2021.29 L291.98,2012.62 L296.54,2004.03 L301.09,1995.53 L305.65,1987.12 L310.20,1978.78 L314.76,1970.53 L319.31,1962.36 L323.86,1954.27 L328.42,1946.26 L332.97,1938.33 L337.53,1930.47 L342.08,1922.70 L346.64,1915.00 L351.19,1907.37 L355.75,1899.82 L360.30,1892.35 L364.86,1884.95 L369.41,1877.62 L373.97,1870.36 L378.52,1863.18 L383.07,1856.06 L387.63,1849.02 L392.18,1842.04 L396.74,1835.13 L401.29,1828.30 L405.85,1821.52 L410.40,1814.82 L414.96,1808.18 L419.51,1801.61 L424.07,1795.10 L428.62,1788.65 L433.17,1782.27 L437.73,1775.95 L442.28,1769.70 L446.84,1763.50 L451.39,1757.37 L455.95,1751.30 L460.50,1745.28 L465.06,1739.33 L469.61,1733.43 L474.17,1727.59 L478.72,1721.81 L483.28,1716.09 L487.83,1710.42 L492.38,1704.81 L496.94,1699.25 L501.49,1693.75 L506.05,1688.30 L510.60,1682.91 L515.16,1677.57 L519.71,1672.28 L524.27,1667.04 L528.82,1661.86 L533.38,1656.72 L537.93,1651.64 L542.48,1646.61 L547.04,1641.62 L551.59,1636.69 L556.15,1631.80 L560.70,1626.97 L565.26,1622.17 L569.81,1617.43 L574.37,1612.73 L578.92,1608.08 L583.48,1603.48 L588.03,1598.92 L592.59,1594.40 L597.14,1589.93 L601.69,1585.51 L606.25,1581.13 L610.80,1576.79 L615.36,1572.49 L619.91,1568.23 L624.47,1564.02 L629.02,1559.85 L633.58,1555.72 L638.13,1551.63 L642.69,1547.58 L647.24,1543.57 L651.79,1539.60 L656.35,1535.67 L660.90,1531.78 L665.46,1527.92 L670.01,1524.11 L674.57,1520.33 L679.12,1516.59 L683.68,1512.88 L688.23,1509.21 L692.79,1505.58 L697.34,1501.99 L701.90,1498.42 L706.45,1494.90 L711.00,1491.41 L715.56,1487.95 L720.11,1484.53 L724.67,1481.14 L729.22,1477.78 L733.78,1474.46 L738.33,1471.17 L742.89,1467.91 L747.44,1464.69 L752.00,1461.49 L756.55,1458.33 L761.10,1455.20 L765.66,1452.10 L770.21,1449.03 L774.77,1445.99 L779.32,1442.98 L783.88,1440.00 L788.43,1437.04 L792.99,1434.12 L797.54,1431.23 L802.10,1428.36 L806.65,1425.53 L811.21,1422.72 L815.76,1419.94 L820.31,1417.18 L824.87,1414.46 L829.42,1411.76 L833.98,1409.08 L838.53,1406.44 L843.09,1403.82 L847.64,1401.22 L852.20,1398.65 L856.75,1396.11 L861.31,1393.59 L865.86,1391.09 L870.42,1388.62 L874.97,1386.18 L879.52,1383.76 L884.08,1381.36 L888.63,1378.98 L893.19,1376.63 L897.74,1374.31 L902.30,1372.00 L906.85,1369.72 L911.41,1367.46 L915.96,1365.22 L920.52,1363.01 L925.07,1360.81 L929.62,1358.64 L934.18,1356.49 L938.73,1354.36 L943.29,1352.25 L947.84,1350.16 L952.40,1348.10 L956.95,1346.05 L961.51,1344.02 L966.06,1342.01 L970.62,1340.03 L975.17,1338.06 L979.73,1336.11 L984.28,1334.18 L988.83,1332.27 L993.39,1330.38 L997.94,1328.51 L1002.50,1326.65 L1007.05,1324.82 L1011.61,1323.00 L1016.16,1321.20 L1020.72,1319.42 L1025.27,1317.65 L1029.83,1315.91 L1034.38,1314.18 L1038.93,1312.46 L1043.49,1310.77 L1048.04,1309.09 L1052.60,1307.42 L1057.15,1305.78 L1061.71,1304.15 L1066.26,1302.53 L1070.82,1300.93 L1075.37,1299.35 L1079.93,1297.78 L1084.48,1296.23 L1089.04,1294.69 L1093.59,1293.17 L1098.14,1291.66 L1102.70,1290.17 L1107.25,1288.70 L1111.81,1287.23 L1116.36,1285.78 L1120.92,1284.35 L1125.47,1282.93 L1130.03,1281.53 L1134.58,1280.13 L1139.14,1278.75 L1143.69,1277.39 L1148.24,1276.04 L1152.80,1274.70 L1157.35,1273.38 L1161.91,1272.06 L1166.46,1270.76 L1171.02,1269.48 L1175.57,1268.21 L1180.13,1266.94 L1184.68,1265.70 L1189.24,1264.46 L1193.79,1263.24 L1198.35,1262.02 L1202.90,1260.82 L1207.45,1259.63 L1212.01,1258.46 L1216.56,1257.29 L1221.12,1256.14 L1225.67,1255.00 L1230.23,1253.87 L1234.78,1252.75 L1239.34,1251.64 L1243.89,1250.54 L1248.45,1249.45 L1253.00,1248.38 L1257.55,1247.31 L1262.11,1246.25 L1266.66,1245.21 L1271.22,1244.17 L1275.77,1243.15 L1280.33,1242.14 L1284.88,1241.13 L1289.44,1240.14 L1293.99,1239.15 L1298.55,1238.18 L1303.10,1237.21 L1307.66,1236.25 L1312.21,1235.31 L1316.76,1234.37 L1321.32,1233.44 L1325.87,1232.52 L1330.43,1231.61 L1334.98,1230.71 L1339.54,1229.82 L1344.09,1228.94 L1348.65,1228.06 L1353.20,1227.20 L1357.76,1226.34 L1362.31,1225.49 L1366.86,1224.65 L1371.42,1223.82 L1375.97,1222.99 L1380.53,1222.18 L1385.08,1221.37 L1389.64,1220.57 L1394.19,1219.78 L1398.75,1218.99 L1403.30,1218.21 L1407.86,1217.44 L1412.41,1216.68 L1416.97,1215.93 L1421.52,1215.18 L1426.07,1214.44 L1430.63,1213.71 L1435.18,1212.99 L1439.74,1212.27 L1444.29,1211.56 L1448.85,1210.85 L1453.40,1210.16 L1457.96,1209.47 L1462.51,1208.78 L1467.07,1208.11 L1471.62,1207.44 L1476.18,1206.77 L1480.73,1206.12 L1485.28,1205.47 L1489.84,1204.82 L1494.39,1204.19 L1498.95,1203.56 L1503.50,1202.93 L1508.06,1202.31 L1512.61,1201.70 L1517.17,1201.09 L1521.72,1200.49 L1526.28,1199.90 L1530.83,1199.31 L1535.38,1198.72 L1539.94,1198.15 L1544.49,1197.58 L1549.05,1197.01 L1553.60,1196.45 L1558.16,1195.89 L1562.71,1195.34 L1567.27,1194.80 L1571.82,1194.26 L1576.38,1193.73 L1580.93,1193.20 L1585.49,1192.68 L1590.04,1192.16 L1594.59,1191.65 L1599.15,1191.14 L1603.70,1190.64 L1608.26,1190.14 L1612.81,1189.64 L1617.37,1189.16 L1621.92,1188.67 L1626.48,1188.19 L1631.03,1187.72 L1635.59,1187.25 L1640.14,1186.79 L1644.69,1186.33 L1649.25,1185.87 L1653.80,1185.42 L1658.36,1184.97 L1662.91,1184.53 L1667.47,1184.09 L1672.02,1183.66 L1676.58,1183.23 L1681.13,1182.81 L1685.69,1182.39 L1690.24,1181.97 L1694.80,1181.56 L1699.35,1181.15 L1703.90,1180.74 L1708.46,1180.34 L1713.01,1179.95 L1717.57,1179.55 L1722.12,1179.16 L1726.68,1178.78 L1731.23,1178.40 L1735.79,1178.02 L1740.34,1177.65 L1744.90,1177.28 L1749.45,1176.91 L1754.00,1176.55 L1758.56,1176.19 L1763.11,1175.83 L1767.67,1175.48 L1772.22,1175.13 L1776.78,1174.79 L1781.33,1174.45 L1785.89,1174.11 L1790.44,1173.77 L1795.00,1173.44 L1799.55,1173.11 L1804.11,1172.79 L1808.66,1172.46 L1813.21,1172.14 L1817.77,1171.83 L1822.32,1171.52 L1826.88,1171.21 L1831.43,1170.90 L1835.99,1170.60 L1840.54,1170.29 L1845.10,1170.00 L1849.65,1169.70 L1854.21,1169.41 L1858.76,1169.12 L1863.31,1168.84 L1867.87,1168.55 L1872.42,1168.27 L1876.98,1167.99 L1881.53,1167.72 L1886.09,1167.45 L1890.64,1167.18 L1895.20,1166.91 L1899.75,1166.64 L1904.31,1166.38 L1908.86,1166.12 L1913.42,1165.87 L1917.97,1165.61 L1922.52,1165.36 L1927.08,1165.11 L1931.63,1164.87 L1936.19,1164.62 L1940.74,1164.38 L1945.30,1164.14 L1949.85,1163.90 L1954.41,1163.67 L1958.96,1163.44 L1963.52,1163.20 L1968.07,1162.98 L1972.62,1162.75 L1977.18,1162.53 L1981.73,1162.31 L1986.29,1162.09 L1990.84,1161.87 L1995.40,1161.66 L1999.95,1161.44 L2004.51,1161.23 L2009.06,1161.02 L2013.62,1160.82 L2018.17,1160.61 L2022.73,1160.41 L2027.28,1160.21" stroke="#00C000"/>
<path d="M210.00,2153.72 L214.55,2147.15 L219.11,2140.63 L223.66,2134.19 L228.22,2127.80 L232.77,2121.48 L237.33,2115.22 L241.88,2109.02 L246.44,2102.88 L250.99,2096.80 L255.55,2090.78 L260.10,2084.81 L264.66,2078.91 L269.21,2073.06 L273.76,2067.28 L278.32,2061.54 L282.87,2055.87 L287.43,2050.25 L291.98,2044.68 L296.54,2039.17 L301.09,2033.71 L305.65,2028.31 L310.20,2022.95 L314.76,2017.65 L319.31,2012.41 L323.86,2007.21 L328.42,2002.06 L332.97,1996.97 L337.53,1991.92 L342.08,1986.92 L346.64,1981.98 L351.19,1977.08 L355.75,1972.22 L360.30,1967.42 L364.86,1962.66 L369.41,1957.95 L373.97,1953.29 L378.52,1948.67 L383.07,1944.09 L387.63,1939.56 L392.18,1935.08 L396.74,1930.63 L401.29,1926.24 L405.85,1921.88 L410.40,1917.57 L414.96,1913.30 L419.51,1909.07 L424.07,1904.88 L428.62,1900.73 L433.17,1896.62 L437.73,1892.56 L442.28,1888.53 L446.84,1884.54 L451.39,1880.59 L455.95,1876.68 L460.50,1872.81 L465.06,1868.98 L469.61,1865.18 L474.17,1861.42 L478.72,1857.70 L483.28,1854.01 L487.83,1850.36 L492.38,1846.75 L496.94,1843.17 L501.49,1839.62 L506.05,1836.11 L510.60,1832.64 L515.16,1829.19 L519.71,1825.78 L524.27,1822.41 L528.82,1819.07 L533.38,1815.76 L537.93,1812.48 L542.48,1809.24 L547.04,1806.02 L551.59,1802.84 L556.15,1799.69 L560.70,1796.57 L565.26,1793.48 L569.81,1790.42 L574.37,1787.39 L578.92,1784.39 L583.48,1781.42 L588.03,1778.47 L592.59,1775.56 L597.14,1772.68 L601.69,1769.82 L606.25,1766.99 L610.80,1764.19 L615.36,1761.41 L619.91,1758.67 L624.47,1755.95 L629.02,1753.25 L633.58,1750.59 L638.13,1747.95 L642.69,1745.33 L647.24,1742.74 L651.79,1740.18 L656.35,1737.64 L660.90,1735.12 L665.46,1732.63 L670.01,1730.17 L674.57,1727.72 L679.12,1725.31 L683.68,1722.91 L688.23,1720.54 L692.79,1718.19 L697.34,1715.87 L701.90,1713.57 L706.45,1711.29 L711.00,1709.03 L715.56,1706.79 L720.11,1704.58 L724.67,1702.39 L729.22,1700.22 L733.78,1698.07 L738.33,1695.94 L742.89,1693.83 L747.44,1691.74 L752.00,1689.68 L756.55,1687.63 L761.10,1685.60 L765.66,1683.60 L770.21,1681.61 L774.77,1679.64 L779.32,1677.69 L783.88,1675.76 L788.43,1673.85 L792.99,1671.96 L797.54,1670.09 L802.10,1668.23 L806.65,1666.39 L811.21,1664.57 L815.76,1662.77 L820.31,1660.99 L824.87,1659.22 L829.42,1657.47 L833.98,1655.74 L838.53,1654.02 L843.09,1652.33 L847.64,1650.64 L852.20,1648.98 L856.75,1647.33 L861.31,1645.69 L865.86,1644.08 L870.42,1642.48 L874.97,1640.89 L879.52,1639.32 L884.08,1637.76 L888.63,1636.22 L893.19,1634.70 L897.74,1633.19 L902.30,1631.69 L906.85,1630.21 L911.41,1628.75 L915.96,1627.30 L920.52,1625.86 L925.07,1624.43 L929.62,1623.02 L934.18,1621.63 L938.73,1620.25 L943.29,1618.88 L947.84,1617.52 L952.40,1616.18 L956.95,1614.85 L961.51,1613.53 L966.06,1612.23 L970.62,1610.94 L975.17,1609.66 L979.73,1608.40 L984.28,1607.14 L988.83,1605.90 L993.39,1604.67 L997.94,1603.46 L1002.50,1602.25 L1007.05,1601.06 L1011.61,1599.88 L1016.16,1598.70 L1020.72,1597.55 L1025.27,1596.40 L1029.83,1595.26 L1034.38,1594.14 L1038.93,1593.02 L1043.49,1591.92 L1048.04,1590.83 L1052.60,1589.75 L1057.15,1588.67 L1061.71,1587.61 L1066.26,1586.56 L1070.82,1585.52 L1075.37,1584.49 L1079.93,1583.47 L1084.48,1582.46 L1089.04,1581.46 L1093.59,1580.47 L1098.14,1579.49 L1102.70,1578.52 L1107.25,1577.56 L1111.81,1576.61 L1116.36,1575.66 L1120.92,1574.73 L1125.47,1573.81 L1130.03,1572.89 L1134.58,1571.98 L1139.14,1571.09 L1143.69,1570.20 L1148.24,1569.32 L1152.80,1568.44 L1157.35,1567.58 L1161.91,1566.73 L1166.46,1565.88 L1171.02,1565.04 L1175.57,1564.21 L1180.13,1563.39 L1184.68,1562.57 L1189.24,1561.77 L1193.79,1560.97 L1198.35,1560.18 L1202.90,1559.40 L1207.45,1558.62 L1212.01,1557.86 L1216.56,1557.10 L1221.12,1556.34 L1225.67,1555.60 L1230.23,1554.86 L1234.78,1554.13 L1239.34,1553.41 L1243.89,1552.69 L1248.45,1551.98 L1253.00,1551.28 L1257.55,1550.58 L1262.11,1549.89 L1266.66,1549.21 L1271.22,1548.53 L1275.77,1547.86 L1280.33,1547.20 L1284.88,1546.55 L1289.44,1545.90 L1293.99,1545.25 L1298.55,1544.62 L1303.10,1543.99 L1307.66,1543.36 L1312.21,1542.74 L1316.76,1542.13 L1321.32,1541.52 L1325.87,1540.92 L1330.43,1540.33 L1334.98,1539.74 L1339.54,1539.16 L1344.09,1538.58 L1348.65,1538.01 L1353.20,1537.44 L1357.76,1536.88 L1362.31,1536.33 L1366.86,1535.78 L1371.42,1535.23 L1375.97,1534.69 L1380.53,1534.16 L1385.08,1533.63 L1389.64,1533.11 L1394.19,1532.59 L1398.75,1532.07 L1403.30,1531.57 L1407.86,1531.06 L1412.41,1530.56 L1416.97,1530.07 L1421.52,1529.58 L1426.07,1529.10 L1430.63,1528.62 L1435.18,1528.14 L1439.74,1527.67 L1444.29,1527.21 L1448.85,1526.75 L1453.40,1526.29 L1457.96,1525.84 L1462.51,1525.39 L1467.07,1524.95 L1471.62,1524.51 L1476.18,1524.08 L1480.73,1523.65 L1485.28,1523.22 L1489.84,1522.80 L1494.39,1522.38 L1498.95,1521.97 L1503.50,1521.56 L1508.06,1521.15 L1512.61,1520.75 L1517.17,1520.35 L1521.72,1519.96 L1526.28,1519.57 L1530.83,1519.18 L1535.38,1518.80 L1539.94,1518.42 L1544.49,1518.04 L1549.05,1517.67 L1553.60,1517.31 L1558.16,1516.94 L1562.71,1516.58 L1567.27,1516.22 L1571.82,1515.87 L1576.38,1515.52 L1580.93,1515.17 L1585.49,1514.83 L1590.04,1514.49 L1594.59,1514.15 L1599.15,1513.82 L1603.70,1513.49 L1608.26,1513.16 L1612.81,1512.84 L1617.37,1512.52 L1621.92,1512.20 L1626.48,1511.89 L1631.03,1511.58 L1635.59,1511.27 L1640.14,1510.96 L1644.69,1510.66 L1649.25,1510.36 L1653.80,1510.06 L1658.36,1509.77 L1662.91,1509.48 L1667.47,1509.19 L1672.02,1508.91 L1676.58,1508.62 L1681.13,1508.35 L1685.69,1508.07 L1690.24,1507.79 L1694.80,1507.52 L1699.35,1507.25 L1703.90,1506.99 L1708.46,1506.73 L1713.01,1506.46 L1717.57,1506.21 L1722.12,1505.95 L1726.68,1505.70 L1731.23,1505.45 L1735.79,1505.20 L1740.34,1504.95 L1744.90,1504.71 L1749.45,1504.47 L1754.00,1504.23 L1758.56,1503.99 L1763.11,1503.76 L1767.67,1503.53 L1772.22,1503.30 L1776.78,1503.07 L1781.33,1502.84 L1785.89,1502.62 L1790.44,1502.40 L1795.00,1502.18 L1799.55,1501.96 L1804.11,1501.75 L1808.66,1501.54 L1813.21,1501.33 L1817.77,1501.12 L1822.32,1500.91 L1826.88,1500.71 L1831.43,1500.51 L1835.99,1500.31 L1840.54,1500.11 L1845.10,1499.91 L1849.65,1499.72 L1854.21,1499.52 L1858.76,1499.33 L1863.31,1499.15 L1867.87,1498.96 L1872.42,1498.77 L1876.98,1498.59 L1881.53,1498.41 L1886.09,1498.23 L1890.64,1498.05 L1895.20,1497.87 L1899.75,1497.70 L1904.31,1497.53 L1908.86,1497.36 L1913.42,1497.19 L1917.97,1497.02 L1922.52,1496.85 L1927.08,1496.69 L1931.63,1496.53 L1936.19,1496.36 L1940.74,1496.20 L1945.30,1496.05 L1949.85,1495.89 L1954.41,1495.73 L1958.96,1495.58 L1963.52,1495.43 L1968.07,1495.28 L1972.62,1495.13 L1977.18,1494.98 L1981.73,1494.83 L1986.29,1494.69 L1990.84,1494.55 L1995.40,1494.40 L1999.95,1494.26 L2004.51,1494.12 L2009.06,1493.99 L2013.62,1493.85 L2018.17,1493.71 L2022.73,1493.58 L2027.28,1493.45" stroke="#FF0000"/>
<path d="M210.00,2179.96 L214.55,2174.07 L219.11,2168.26 L223.66,2162.53 L228.22,2156.87 L232.77,2151.30 L237.33,2145.80 L241.88,2140.37 L246.44,2135.02 L250.99,2129.74 L255.55,2124.53 L260.10,2119.40 L264.66,2114.33 L269.21,2109.33 L273.76,2104.40 L278.32,2099.54 L282.87,2094.74 L287.43,2090.01 L291.98,2085.34 L296.54,2080.74 L301.09,2076.20 L305.65,2071.72 L310.20,2067.30 L314.76,2062.94 L319.31,2058.64 L323.86,2054.40 L328.42,2050.21 L332.97,2046.09 L337.53,2042.02 L342.08,2038.00 L346.64,2034.04 L351.19,2030.13 L355.75,2026.28 L360.30,2022.48 L364.86,2018.73 L369.41,2015.03 L373.97,2011.38 L378.52,2007.78 L383.07,2004.23 L387.63,2000.73 L392.18,1997.27 L396.74,1993.87 L401.29,1990.51 L405.85,1987.19 L410.40,1983.92 L414.96,1980.69 L419.51,1977.51 L424.07,1974.37 L428.62,1971.28 L433.17,1968.22 L437.73,1965.21 L442.28,1962.24 L446.84,1959.31 L451.39,1956.42 L455.95,1953.56 L460.50,1950.75 L465.06,1947.97 L469.61,1945.24 L474.17,1942.54 L478.72,1939.87 L483.28,1937.25 L487.83,1934.65 L492.38,1932.10 L496.94,1929.58 L501.49,1927.09 L506.05,1924.63 L510.60,1922.21 L515.16,1919.83 L519.71,1917.47 L524.27,1915.15 L528.82,1912.86 L533.38,1910.60 L537.93,1908.37 L542.48,1906.17 L547.04,1904.00 L551.59,1901.86 L556.15,1899.75 L560.70,1897.67 L565.26,1895.61 L569.81,1893.59 L574.37,1891.59 L578.92,1889.62 L583.48,1887.67 L588.03,1885.75 L592.59,1883.86 L597.14,1881.99 L601.69,1880.15 L606.25,1878.34 L610.80,1876.55 L615.36,1874.78 L619.91,1873.04 L624.47,1871.32 L629.02,1869.62 L633.58,1867.95 L638.13,1866.30 L642.69,1864.67 L647.24,1863.06 L651.79,1861.48 L656.35,1859.92 L660.90,1858.38 L665.46,1856.86 L670.01,1855.36 L674.57,1853.88 L679.12,1852.42 L683.68,1850.98 L688.23,1849.56 L692.79,1848.16 L697.34,1846.78 L701.90,1845.42 L706.45,1844.07 L711.00,1842.75 L715.56,1841.44 L720.11,1840.15 L724.67,1838.88 L729.22,1837.62 L733.78,1836.38 L738.33,1835.16 L742.89,1833.96 L747.44,1832.77 L752.00,1831.60 L756.55,1830.44 L761.10,1829.30 L765.66,1828.18 L770.21,1827.07 L774.77,1825.97 L779.32,1824.89 L783.88,1823.83 L788.43,1822.78 L792.99,1821.74 L797.54,1820.72 L802.10,1819.71 L806.65,1818.72 L811.21,1817.73 L815.76,1816.77 L820.31,1815.81 L824.87,1814.87 L829.42,1813.94 L833.98,1813.02 L838.53,1812.12 L843.09,1811.23 L847.64,1810.35 L852.20,1809.48 L856.75,1808.63 L861.31,1807.78 L865.86,1806.95 L870.42,1806.13 L874.97,1805.32 L879.52,1804.52 L884.08,1803.73 L888.63,1802.95 L893.19,1802.19 L897.74,1801.43 L902.30,1800.68 L906.85,1799.95 L911.41,1799.22 L915.96,1798.51 L920.52,1797.80 L925.07,1797.10 L929.62,1796.41 L934.18,1795.74 L938.73,1795.07 L943.29,1794.41 L947.84,1793.76 L952.40,1793.11 L956.95,1792.48 L961.51,1791.86 L966.06,1791.24 L970.62,1790.63 L975.17,1790.03 L979.73,1789.44 L984.28,1788.86 L988.83,1788.28 L993.39,1787.72 L997.94,1787.16 L1002.50,1786.60 L1007.05,1786.06 L1011.61,1785.52 L1016.16,1784.99 L1020.72,1784.47 L1025.27,1783.95 L1029.83,1783.44 L1034.38,1782.94 L1038.93,1782.45 L1043.49,1781.96 L1048.04,1781.48 L1052.60,1781.00 L1057.15,1780.53 L1061.71,1780.07 L1066.26,1779.61 L1070.82,1779.16 L1075.37,1778.72 L1079.93,1778.28 L1084.48,1777.85 L1089.04,1777.43 L1093.59,1777.01 L1098.14,1776.59 L1102.70,1776.18 L1107.25,1775.78 L1111.81,1775.38 L1116.36,1774.99 L1120.92,1774.60 L1125.47,1774.22 L1130.03,1773.84 L1134.58,1773.47 L1139.14,1773.11 L1143.69,1772.74 L1148.24,1772.39 L1152.80,1772.04 L1157.35,1771.69 L1161.91,1771.35 L1166.46,1771.01 L1171.02,1770.68 L1175.57,1770.35 L1180.13,1770.02 L1184.68,1769.71 L1189.24,1769.39 L1193.79,1769.08 L1198.35,1768.77 L1202.90,1768.47 L1207.45,1768.17 L1212.01,1767.88 L1216.56,1767.59 L1221.12,1767.30 L1225.67,1767.02 L1230.23,1766.74 L1234.78,1766.46 L1239.34,1766.19 L1243.89,1765.93 L1248.45,1765.66 L1253.00,1765.40 L1257.55,1765.14 L1262.11,1764.89 L1266.66,1764.64 L1271.22,1764.40 L1275.77,1764.15 L1280.33,1763.91 L1284.88,1763.68 L1289.44,1763.44 L1293.99,1763.21 L1298.55,1762.99 L1303.10,1762.76 L1307.66,1762.54 L1312.21,1762.32 L1316.76,1762.11 L1321.32,1761.90 L1325.87,1761.69 L1330.43,1761.48 L1334.98,1761.28 L1339.54,1761.08 L1344.09,1760.88 L1348.65,1760.68 L1353.20,1760.49 L1357.76,1760.30 L1362.31,1760.11 L1366.86,1759.93 L1371.42,1759.75 L1375.97,1759.57 L1380.53,1759.39 L1385.08,1759.21 L1389.64,1759.04 L1394.19,1758.87 L1398.75,1758.70 L1403.30,1758.54 L1407.86,1758.37 L1412.41,1758.21 L1416.97,1758.05 L1421.52,1757.90 L1426.07,1757.74 L1430.63,1757.59 L1435.18,1757.44 L1439.74,1757.29 L1444.29,1757.14 L1448.85,1757.00 L1453.40,1756.86 L1457.96,1756.72 L1462.51,1756.58 L1467.07,1756.44 L1471.62,1756.31 L1476.18,1756.17 L1480.73,1756.04 L1485.28,1755.91 L1489.84,1755.78 L1494.39,1755.66 L1498.95,1755.53 L1503.50,1755.41 L1508.06,1755.29 L1512.61,1755.17 L1517.17,1755.05 L1521.72,1754.94 L1526.28,1754.82 L1530.83,1754.71 L1535.38,1754.60 L1539.94,1754.49 L1544.49,1754.38 L1549.05,1754.27 L1553.60,1754.17 L1558.16,1754.06 L1562.71,1753.96 L1567.27,1753.86 L1571.82,1753.76 L1576.38,1753.66 L1580.93,1753.56 L1585.49,1753.47 L1590.04,1753.37 L1594.59,1753.28 L1599.15,1753.19 L1603.70,1753.10 L1608.26,1753.01 L1612.81,1752.92 L1617.37,1752.83 L1621.92,1752.75 L1626.48,1752.66 L1631.03,1752.58 L1635.59,1752.50 L1640.14,1752.41 L1644.69,1752.33 L1649.25,1752.25 L1653.80,1752.18 L1658.36,1752.10 L1662.91,1752.02 L1667.47,1751.95 L1672.02,1751.88 L1676.58,1751.80 L1681.13,1751.73 L1685.69,1751.66 L1690.24,1751.59 L1694.80,1751.52 L1699.35,1751.45 L1703.90,1751.38 L1708.46,1751.32 L1713.01,1751.25 L1717.57,1751.19 L1722.12,1751.13 L1726.68,1751.06 L1731.23,1751.00 L1735.79,1750.94 L1740.34,1750.88 L1744.90,1750.82 L1749.45,1750.76 L1754.00,1750.70 L1758.56,1750.65 L1763.11,1750.59 L1767.67,1750.54 L1772.22,1750.48 L1776.78,1750.43 L1781.33,1750.37 L1785.89,1750.32 L1790.44,1750.27 L1795.00,1750.22 L1799.55,1750.17 L1804.11,1750.12 L1808.66,1750.07 L1813.21,1750.02 L1817.77,1749.97 L1822.32,1749.93 L1826.88,1749.88 L1831.43,1749.83 L1835.99,1749.79 L1840.54,1749.74 L1845.10,1749.70 L1849.65,1749.66 L1854.21,1749.61 L1858.76,1749.57 L1863.31,1749.53 L1867.87,1749.49 L1872.42,1749.45 L1876.98,1749.41 L1881.53,1749.37 L1886.09,1749.33 L1890.64,1749.29 L1895.20,1749.25 L1899.75,1749.22 L1904.31,1749.18 L1908.86,1749.14 L1913.42,1749.11 L1917.97,1749.07 L1922.52,1749.04 L1927.08,1749.00 L1931.63,1748.97 L1936.19,1748.94 L1940.74,1748.90 L1945.30,1748.87 L1949.85,1748.84 L1954.41,1748.81 L1958.96,1748.78 L1963.52,1748.74 L1968.07,1748.71 L1972.62,1748.68 L1977.18,1748.65 L1981.73,1748.63 L1986.29,1748.60 L1990.84,1748.57 L1995.40,1748.54 L1999.95,1748.51 L2004.51,1748.49 L2009.06,1748.46 L2013.62,1748.43 L2018.17,1748.41 L2022.73,1748.38 L2027.28,1748.35" stroke="#0000FF"/>
</g>
<rect x="190.70" y="2133.70" width="38.6" height="38.6" fill="#A0620F"/>
<path d="M255.43,1850.56 V1924.05" stroke="#A0620F" stroke-width="3.5" fill="none"/>
<path d="M246.93,1850.56 H263.93 M246.93,1924.05 H263.93" stroke="#A0620F" stroke-width="3" fill="none"/>
<rect x="236.13" y="1868.01" width="38.6" height="38.6" fill="#A0620F"/>
<path d="M300.86,1692.75 V1800.15" stroke="#A0620F" stroke-width="3.5" fill="none"/>
<path d="M292.36,1692.75 H309.36 M292.36,1800.15 H309.36" stroke="#A0620F" stroke-width="3" fill="none"/>
<rect x="281.56" y="1727.15" width="38.6" height="38.6" fill="#A0620F"/>
<path d="M346.30,1598.24 V1679.27" stroke="#A0620F" stroke-width="3.5" fill="none"/>
<path d="M337.80,1598.24 H354.80 M337.80,1679.27 H354.80" stroke="#A0620F" stroke-width="3" fill="none"/>
<rect x="327.00" y="1619.46" width="38.6" height="38.6" fill="#A0620F"/>
<path d="M391.73,1513.17 V1610.21" stroke="#A0620F" stroke-width="3.5" fill="none"/>
<path d="M383.23,1513.17 H400.23 M383.23,1610.21 H400.23" stroke="#A0620F" stroke-width="3" fill="none"/>
<rect x="372.43" y="1542.39" width="38.6" height="38.6" fill="#A0620F"/>
<path d="M437.16,1375.70 V1488.76" stroke="#A0620F" stroke-width="3.5" fill="none"/>
<path d="M428.66,1375.70 H445.66 M428.66,1488.76 H445.66" stroke="#A0620F" stroke-width="3" fill="none"/>
<rect x="417.86" y="1412.93" width="38.6" height="38.6" fill="#A0620F"/>
<path d="M664.32,933.44 V1059.69" stroke="#A0620F" stroke-width="5" stroke-opacity="0.6" fill="none"/>
<path d="M655.82,933.44 H672.82 M655.82,1059.69 H672.82" stroke="#A0620F" stroke-width="3" fill="none"/>
<rect x="645.02" y="977.27" width="38.6" height="38.6" fill="#A0620F"/>
<path d="M1118.64,455.66 V596.99" stroke="#A0620F" stroke-width="5" stroke-opacity="0.5" fill="none"/>
<path d="M1110.14,455.66 H1127.14 M1110.14,596.99 H1127.14" stroke="#A0620F" stroke-width="3" fill="none"/>
<rect x="1099.34" y="507.03" width="38.6" height="38.6" fill="#A0620F"/>
<path d="M1572.96,196.09 V337.42" stroke="#A0620F" stroke-width="3.5" fill="none"/>
<path d="M1564.46,196.09 H1581.46 M1564.46,337.42 H1581.46" stroke="#A0620F" stroke-width="3" fill="none"/>
<rect x="1553.66" y="247.46" width="38.6" height="38.6" fill="#A0620F"/>
<path d="M2027.28,133.25 V270.81" stroke="#A0620F" stroke-width="3.5" fill="none"/>
<path d="M2018.78,133.25 H2035.78 M2018.78,270.81 H2035.78" stroke="#A0620F" stroke-width="3" fill="none"/>
<rect x="2007.98" y="182.73" width="38.6" height="38.6" fill="#A0620F"/>
<circle cx="210.00" cy="2153.00" r="19.2" fill="#000000"/>
<path d="M255.43,1974.93 V1993.77" stroke="#000000" stroke-width="3.5" fill="none"/>
<path d="M246.93,1974.93 H263.93 M246.93,1993.77 H263.93" stroke="#000000" stroke-width="3" fill="none"/>
<circle cx="255.43" cy="1984.35" r="19.2" fill="#000000"/>
<path d="M300.86,1783.29 V1837.94" stroke="#000000" stroke-width="3.5" fill="none"/>
<path d="M292.36,1783.29 H309.36 M292.36,1837.94 H309.36" stroke="#000000" stroke-width="3" fill="none"/>
<circle cx="300.86" cy="1810.61" r="19.2" fill="#000000"/>
<path d="M346.30,1712.44 V1772.74" stroke="#000000" stroke-width="3.5" fill="none"/>
<path d="M337.80,1712.44 H354.80 M337.80,1772.74 H354.80" stroke="#000000" stroke-width="3" fill="none"/>
<circle cx="346.30" cy="1742.59" r="19.2" fill="#000000"/>
<path d="M391.73,1645.92 V1742.02" stroke="#000000" stroke-width="3.5" fill="none"/>
<path d="M383.23,1645.92 H400.23 M383.23,1742.02 H400.23" stroke="#000000" stroke-width="3" fill="none"/>
<circle cx="391.73" cy="1693.97" r="19.2" fill="#000000"/>
<path d="M437.16,1633.86 V1656.47" stroke="#000000" stroke-width="3.5" fill="none"/>
<path d="M428.66,1633.86 H445.66 M428.66,1656.47 H445.66" stroke="#000000" stroke-width="3" fill="none"/>
<circle cx="437.16" cy="1645.16" r="19.2" fill="#000000"/>
<path d="M664.32,1240.97 V1414.33" stroke="#000000" stroke-width="5" stroke-opacity="0.6" fill="none"/>
<path d="M655.82,1240.97 H672.82 M655.82,1414.33 H672.82" stroke="#000000" stroke-width="3" fill="none"/>
<circle cx="664.32" cy="1327.65" r="19.2" fill="#000000"/>
<path d="M1118.64,915.92 V1085.51" stroke="#000000" stroke-width="5" stroke-opacity="0.5" fill="none"/>
<path d="M1110.14,915.92 H1127.14 M1110.14,1085.51 H1127.14" stroke="#000000" stroke-width="3" fill="none"/>
<circle cx="1118.64" cy="1000.71" r="19.2" fill="#000000"/>
<path d="M1572.96,702.98 V898.96" stroke="#000000" stroke-width="3.5" fill="none"/>
<path d="M1564.46,702.98 H1581.46 M1564.46,898.96 H1581.46" stroke="#000000" stroke-width="3" fill="none"/>
<circle cx="1572.96" cy="800.97" r="19.2" fill="#000000"/>
<path d="M2027.28,611.59 V807.57" stroke="#000000" stroke-width="3.5" fill="none"/>
<path d="M2018.78,611.59 H2035.78 M2018.78,807.57 H2035.78" stroke="#000000" stroke-width="3" fill="none"/>
<circle cx="2027.28" cy="709.58" r="19.2" fill="#000000"/>
<polygon points="210.00,2138.00 226.25,2153.00 210.00,2168.00 193.75,2153.00" fill="#FF8000"/>
<path d="M255.43,1998.48 V2017.33" stroke="#FF8000" stroke-width="3.5" fill="none"/>
<path d="M246.93,1998.48 H263.93 M246.93,2017.33 H263.93" stroke="#FF8000" stroke-width="3" fill="none"/>
<polygon points="255.43,1992.90 271.68,2007.90 255.43,2022.90 239.18,2007.90" fill="#FF8000"/>
<path d="M300.86,1946.66 V1965.51" stroke="#FF8000" stroke-width="3.5" fill="none"/>
<path d="M292.36,1946.66 H309.36 M292.36,1965.51 H309.36" stroke="#FF8000" stroke-width="3" fill="none"/>
<polygon points="300.86,1941.08 317.11,1956.08 300.86,1971.08 284.61,1956.08" fill="#FF8000"/>
<path d="M346.30,1831.72 V1878.83" stroke="#FF8000" stroke-width="3.5" fill="none"/>
<path d="M337.80,1831.72 H354.80 M337.80,1878.83 H354.80" stroke="#FF8000" stroke-width="3" fill="none"/>
<polygon points="346.30,1840.27 362.55,1855.27 346.30,1870.27 330.05,1855.27" fill="#FF8000"/>
<path d="M391.73,1806.28 V1817.58" stroke="#FF8000" stroke-width="3.5" fill="none"/>
<path d="M383.23,1806.28 H400.23 M383.23,1817.58 H400.23" stroke="#FF8000" stroke-width="3" fill="none"/>
<polygon points="391.73,1796.93 407.98,1811.93 391.73,1826.93 375.48,1811.93" fill="#FF8000"/>
<path d="M437.16,1744.09 V1789.32" stroke="#FF8000" stroke-width="3.5" fill="none"/>
<path d="M428.66,1744.09 H445.66 M428.66,1789.32 H445.66" stroke="#FF8000" stroke-width="3" fill="none"/>
<polygon points="437.16,1751.71 453.41,1766.71 437.16,1781.71 420.91,1766.71" fill="#FF8000"/>
<path d="M664.32,1524.57 V1635.74" stroke="#FF8000" stroke-width="5" stroke-opacity="0.6" fill="none"/>
<path d="M655.82,1524.57 H672.82 M655.82,1635.74 H672.82" stroke="#FF8000" stroke-width="3" fill="none"/>
<polygon points="664.32,1565.15 680.57,1580.15 664.32,1595.15 648.07,1580.15" fill="#FF8000"/>
<path d="M1118.64,1268.29 V1411.50" stroke="#FF8000" stroke-width="5" stroke-opacity="0.5" fill="none"/>
<path d="M1110.14,1268.29 H1127.14 M1110.14,1411.50 H1127.14" stroke="#FF8000" stroke-width="3" fill="none"/>
<polygon points="1118.64,1324.90 1134.89,1339.90 1118.64,1354.90 1102.39,1339.90" fill="#FF8000"/>
<path d="M1572.96,971.98 V1173.60" stroke="#FF8000" stroke-width="3.5" fill="none"/>
<path d="M1564.46,971.98 H1581.46 M1564.46,1173.60 H1581.46" stroke="#FF8000" stroke-width="3" fill="none"/>
<polygon points="1572.96,1057.79 1589.21,1072.79 1572.96,1087.79 1556.71,1072.79" fill="#FF8000"/>
<path d="M2027.28,947.39 V1069.87" stroke="#FF8000" stroke-width="3.5" fill="none"/>
<path d="M2018.78,947.39 H2035.78 M2018.78,1069.87 H2035.78" stroke="#FF8000" stroke-width="3" fill="none"/>
<polygon points="2027.28,993.63 2043.53,1008.63 2027.28,1023.63 2011.03,1008.63" fill="#FF8000"/>
<polygon points="193.50,2136.50 226.50,2136.50 210.00,2169.50" fill="#CC00E6"/>
<path d="M255.43,1954.67 V1999.90" stroke="#CC00E6" stroke-width="3.5" fill="none"/>
<path d="M246.93,1954.67 H263.93 M246.93,1999.90 H263.93" stroke="#CC00E6" stroke-width="3" fill="none"/>
<polygon points="238.93,1960.78 271.93,1960.78 255.43,1993.78" fill="#CC00E6"/>
<path d="M300.86,1898.61 V1936.30" stroke="#CC00E6" stroke-width="3.5" fill="none"/>
<path d="M292.36,1898.61 H309.36 M292.36,1936.30 H309.36" stroke="#CC00E6" stroke-width="3" fill="none"/>
<polygon points="284.36,1900.95 317.36,1900.95 300.86,1933.95" fill="#CC00E6"/>
<path d="M346.30,1828.89 V1879.77" stroke="#CC00E6" stroke-width="3.5" fill="none"/>
<path d="M337.80,1828.89 H354.80 M337.80,1879.77 H354.80" stroke="#CC00E6" stroke-width="3" fill="none"/>
<polygon points="329.80,1837.83 362.80,1837.83 346.30,1870.83" fill="#CC00E6"/>
<path d="M391.73,1762.94 V1800.62" stroke="#CC00E6" stroke-width="3.5" fill="none"/>
<path d="M383.23,1762.94 H400.23 M383.23,1800.62 H400.23" stroke="#CC00E6" stroke-width="3" fill="none"/>
<polygon points="375.23,1765.28 408.23,1765.28 391.73,1798.28" fill="#CC00E6"/>
<path d="M437.16,1626.32 V1696.04" stroke="#CC00E6" stroke-width="3.5" fill="none"/>
<path d="M428.66,1626.32 H445.66 M428.66,1696.04 H445.66" stroke="#CC00E6" stroke-width="3" fill="none"/>
<polygon points="420.66,1644.68 453.66,1644.68 437.16,1677.68" fill="#CC00E6"/>
<path d="M664.32,1101.53 V1205.17" stroke="#CC00E6" stroke-width="5" stroke-opacity="0.6" fill="none"/>
<path d="M655.82,1101.53 H672.82 M655.82,1205.17 H672.82" stroke="#CC00E6" stroke-width="3" fill="none"/>
<polygon points="647.82,1136.85 680.82,1136.85 664.32,1169.85" fill="#CC00E6"/>
<path d="M1118.64,818.87 V896.13" stroke="#CC00E6" stroke-width="5" stroke-opacity="0.5" fill="none"/>
<path d="M1110.14,818.87 H1127.14 M1110.14,896.13 H1127.14" stroke="#CC00E6" stroke-width="3" fill="none"/>
<polygon points="1102.14,841.00 1135.14,841.00 1118.64,874.00" fill="#CC00E6"/>
<path d="M1572.96,756.69 V815.10" stroke="#CC00E6" stroke-width="3.5" fill="none"/>
<path d="M1564.46,756.69 H1581.46 M1564.46,815.10 H1581.46" stroke="#CC00E6" stroke-width="3" fill="none"/>
<polygon points="1556.46,769.40 1589.46,769.40 1572.96,802.40" fill="#CC00E6"/>
<path d="M2027.28,740.67 V808.51" stroke="#CC00E6" stroke-width="3.5" fill="none"/>
<path d="M2018.78,740.67 H2035.78 M2018.78,808.51 H2035.78" stroke="#CC00E6" stroke-width="3" fill="none"/>
<polygon points="2010.78,758.09 2043.78,758.09 2027.28,791.09" fill="#CC00E6"/>
<polygon points="210.00,2137.50 226.50,2168.50 193.50,2168.50" fill="#00C000"/>
<path d="M255.43,2048.42 V2086.11" stroke="#00C000" stroke-width="3.5" fill="none"/>
<path d="M246.93,2048.42 H263.93 M246.93,2086.11 H263.93" stroke="#00C000" stroke-width="3" fill="none"/>
<polygon points="255.43,2051.76 271.93,2082.76 238.93,2082.76" fill="#00C000"/>
<path d="M300.86,1992.83 V2038.05" stroke="#00C000" stroke-width="3.5" fill="none"/>
<path d="M292.36,1992.83 H309.36 M292.36,2038.05 H309.36" stroke="#00C000" stroke-width="3" fill="none"/>
<polygon points="300.86,1999.94 317.36,2030.94 284.36,2030.94" fill="#00C000"/>
<path d="M346.30,1926.88 V1968.33" stroke="#00C000" stroke-width="3.5" fill="none"/>
<path d="M337.80,1926.88 H354.80 M337.80,1968.33 H354.80" stroke="#00C000" stroke-width="3" fill="none"/>
<polygon points="346.30,1932.10 362.80,1963.10 329.80,1963.10" fill="#00C000"/>
<path d="M391.73,1833.60 V1888.25" stroke="#00C000" stroke-width="3.5" fill="none"/>
<path d="M383.23,1833.60 H400.23 M383.23,1888.25 H400.23" stroke="#00C000" stroke-width="3" fill="none"/>
<polygon points="391.73,1845.42 408.23,1876.42 375.23,1876.42" fill="#00C000"/>
<path d="M437.16,1749.75 V1796.86" stroke="#00C000" stroke-width="3.5" fill="none"/>
<path d="M428.66,1749.75 H445.66 M428.66,1796.86 H445.66" stroke="#00C000" stroke-width="3" fill="none"/>
<polygon points="437.16,1757.80 453.66,1788.80 420.66,1788.80" fill="#00C000"/>
<path d="M664.32,1509.02 V1576.86" stroke="#00C000" stroke-width="5" stroke-opacity="0.6" fill="none"/>
<path d="M655.82,1509.02 H672.82 M655.82,1576.86 H672.82" stroke="#00C000" stroke-width="3" fill="none"/>
<polygon points="664.32,1527.44 680.82,1558.44 647.82,1558.44" fill="#00C000"/>
<path d="M1118.64,1144.87 V1267.35" stroke="#00C000" stroke-width="5" stroke-opacity="0.5" fill="none"/>
<path d="M1110.14,1144.87 H1127.14 M1110.14,1267.35 H1127.14" stroke="#00C000" stroke-width="3" fill="none"/>
<polygon points="1118.64,1190.61 1135.14,1221.61 1102.14,1221.61" fill="#00C000"/>
<path d="M1572.96,1153.35 V1249.45" stroke="#00C000" stroke-width="3.5" fill="none"/>
<path d="M1564.46,1153.35 H1581.46 M1564.46,1249.45 H1581.46" stroke="#00C000" stroke-width="3" fill="none"/>
<polygon points="1572.96,1185.90 1589.46,1216.90 1556.46,1216.90" fill="#00C000"/>
<path d="M2027.28,1159.00 V1238.14" stroke="#00C000" stroke-width="3.5" fill="none"/>
<path d="M2018.78,1159.00 H2035.78 M2018.78,1238.14 H2035.78" stroke="#00C000" stroke-width="3" fill="none"/>
<polygon points="2027.28,1183.07 2043.78,1214.07 2010.78,1214.07" fill="#00C000"/>
<rect x="193.25" y="2136.25" width="33.5" height="33.5" fill="#FF0000"/>
<path d="M255.43,2068.02 V2086.86" stroke="#FF0000" stroke-width="3.5" fill="none"/>
<path d="M246.93,2068.02 H263.93 M246.93,2086.86 H263.93" stroke="#FF0000" stroke-width="3" fill="none"/>
<rect x="238.68" y="2060.69" width="33.5" height="33.5" fill="#FF0000"/>
<path d="M300.86,2015.25 V2043.52" stroke="#FF0000" stroke-width="3.5" fill="none"/>
<path d="M292.36,2015.25 H309.36 M292.36,2043.52 H309.36" stroke="#FF0000" stroke-width="3" fill="none"/>
<rect x="284.11" y="2012.64" width="33.5" height="33.5" fill="#FF0000"/>
<path d="M346.30,1981.52 V2019.21" stroke="#FF0000" stroke-width="3.5" fill="none"/>
<path d="M337.80,1981.52 H354.80 M337.80,2019.21 H354.80" stroke="#FF0000" stroke-width="3" fill="none"/>
<rect x="329.55" y="1983.62" width="33.5" height="33.5" fill="#FF0000"/>
<path d="M391.73,1922.83 V1973.70" stroke="#FF0000" stroke-width="3.5" fill="none"/>
<path d="M383.23,1922.83 H400.23 M383.23,1973.70 H400.23" stroke="#FF0000" stroke-width="3" fill="none"/>
<rect x="374.98" y="1931.51" width="33.5" height="33.5" fill="#FF0000"/>
<path d="M437.16,1846.79 V1910.86" stroke="#FF0000" stroke-width="3.5" fill="none"/>
<path d="M428.66,1846.79 H445.66 M428.66,1910.86 H445.66" stroke="#FF0000" stroke-width="3" fill="none"/>
<rect x="420.41" y="1862.08" width="33.5" height="33.5" fill="#FF0000"/>
<path d="M664.32,1733.26 V1781.31" stroke="#FF0000" stroke-width="5" stroke-opacity="0.6" fill="none"/>
<path d="M655.82,1733.26 H672.82 M655.82,1781.31 H672.82" stroke="#FF0000" stroke-width="3" fill="none"/>
<rect x="647.57" y="1740.53" width="33.5" height="33.5" fill="#FF0000"/>
<path d="M1118.64,1494.79 V1564.51" stroke="#FF0000" stroke-width="5" stroke-opacity="0.5" fill="none"/>
<path d="M1110.14,1494.79 H1127.14 M1110.14,1564.51 H1127.14" stroke="#FF0000" stroke-width="3" fill="none"/>
<rect x="1101.89" y="1512.90" width="33.5" height="33.5" fill="#FF0000"/>
<path d="M1572.96,1469.35 V1582.42" stroke="#FF0000" stroke-width="3.5" fill="none"/>
<path d="M1564.46,1469.35 H1581.46 M1564.46,1582.42 H1581.46" stroke="#FF0000" stroke-width="3" fill="none"/>
<rect x="1556.21" y="1509.13" width="33.5" height="33.5" fill="#FF0000"/>
<path d="M2027.28,1454.37 V1559.90" stroke="#FF0000" stroke-width="3.5" fill="none"/>
<path d="M2018.78,1454.37 H2035.78 M2018.78,1559.90 H2035.78" stroke="#FF0000" stroke-width="3" fill="none"/>
<rect x="2010.53" y="1490.39" width="33.5" height="33.5" fill="#FF0000"/>
<circle cx="210.00" cy="2153.00" r="16" fill="#0000FF"/>
<path d="M255.43,2106.36 V2125.21" stroke="#0000FF" stroke-width="3.5" fill="none"/>
<path d="M246.93,2106.36 H263.93 M246.93,2125.21 H263.93" stroke="#0000FF" stroke-width="3" fill="none"/>
<circle cx="255.43" cy="2115.78" r="16" fill="#0000FF"/>
<path d="M300.86,2078.00 V2115.69" stroke="#0000FF" stroke-width="3.5" fill="none"/>
<path d="M292.36,2078.00 H309.36 M292.36,2115.69 H309.36" stroke="#0000FF" stroke-width="3" fill="none"/>
<circle cx="300.86" cy="2096.85" r="16" fill="#0000FF"/>
<path d="M346.30,2037.11 V2084.22" stroke="#0000FF" stroke-width="3.5" fill="none"/>
<path d="M337.80,2037.11 H354.80 M337.80,2084.22 H354.80" stroke="#0000FF" stroke-width="3" fill="none"/>
<circle cx="346.30" cy="2060.67" r="16" fill="#0000FF"/>
<path d="M391.73,2009.79 V2056.90" stroke="#0000FF" stroke-width="3.5" fill="none"/>
<path d="M383.23,2009.79 H400.23 M383.23,2056.90 H400.23" stroke="#0000FF" stroke-width="3" fill="none"/>
<circle cx="391.73" cy="2033.34" r="16" fill="#0000FF"/>
<path d="M437.16,1928.76 V1970.22" stroke="#0000FF" stroke-width="3.5" fill="none"/>
<path d="M428.66,1928.76 H445.66 M428.66,1970.22 H445.66" stroke="#0000FF" stroke-width="3" fill="none"/>
<circle cx="437.16" cy="1949.49" r="16" fill="#0000FF"/>
<path d="M664.32,1781.31 V1857.63" stroke="#0000FF" stroke-width="5" stroke-opacity="0.6" fill="none"/>
<path d="M655.82,1781.31 H672.82 M655.82,1857.63 H672.82" stroke="#0000FF" stroke-width="3" fill="none"/>
<circle cx="664.32" cy="1819.47" r="16" fill="#0000FF"/>
<path d="M1118.64,1701.88 V1801.76" stroke="#0000FF" stroke-width="5" stroke-opacity="0.5" fill="none"/>
<path d="M1110.14,1701.88 H1127.14 M1110.14,1801.76 H1127.14" stroke="#0000FF" stroke-width="3" fill="none"/>
<circle cx="1118.64" cy="1751.82" r="16" fill="#0000FF"/>
<path d="M1572.96,1733.92 V1794.22" stroke="#0000FF" stroke-width="3.5" fill="none"/>
<path d="M1564.46,1733.92 H1581.46 M1564.46,1794.22 H1581.46" stroke="#0000FF" stroke-width="3" fill="none"/>
<circle cx="1572.96" cy="1764.07" r="16" fill="#0000FF"/>
<path d="M2027.28,1731.47 V1804.96" stroke="#0000FF" stroke-width="3.5" fill="none"/>
<path d="M2018.78,1731.47 H2035.78 M2018.78,1804.96 H2035.78" stroke="#0000FF" stroke-width="3" fill="none"/>
<circle cx="2027.28" cy="1768.21" r="16" fill="#0000FF"/>
<g font-size="45.5">
<text x="172" y="2167.70" text-anchor="end">0</text>
<text x="172" y="1932.15" text-anchor="end">250</text>
<text x="172" y="1696.61" text-anchor="end">500</text>
<text x="172" y="1461.07" text-anchor="end">750</text>
<text x="172" y="1225.52" text-anchor="end">1000</text>
<text x="172" y="989.98" text-anchor="end">1250</text>
<text x="172" y="754.43" text-anchor="end">1500</text>
<text x="172" y="518.88" text-anchor="end">1750</text>
<text x="172" y="283.34" text-anchor="end">2000</text>
<text x="172" y="47.79" text-anchor="end">2250</text>
<text x="210.00" y="2231.5" text-anchor="middle">0</text>
<text x="588.60" y="2231.5" text-anchor="middle">25</text>
<text x="967.20" y="2231.5" text-anchor="middle">50</text>
<text x="1345.80" y="2231.5" text-anchor="middle">75</text>
<text x="1724.40" y="2231.5" text-anchor="middle">100</text>
<text x="2103.00" y="2231.5" text-anchor="middle">125</text>
<text x="1156" y="2301" text-anchor="middle">Time (Min)</text>
<text transform="translate(46,1087) rotate(-90)" text-anchor="middle" font-size="44.5">Swelling (%)</text>
</g>
<rect x="73.45" y="1221.72" width="8.78" height="4.60" fill="#fff"/>
<rect x="86.24" y="1221.72" width="8.42" height="4.60" fill="#fff"/>
<rect x="73.45" y="986.18" width="8.78" height="4.60" fill="#fff"/>
<rect x="86.24" y="986.18" width="8.42" height="4.60" fill="#fff"/>
<rect x="73.45" y="750.63" width="8.78" height="4.60" fill="#fff"/>
<rect x="86.24" y="750.63" width="8.42" height="4.60" fill="#fff"/>
<rect x="73.45" y="515.09" width="8.78" height="4.60" fill="#fff"/>
<rect x="86.24" y="515.09" width="8.42" height="4.60" fill="#fff"/>
<rect x="1689.11" y="2227.70" width="8.78" height="4.60" fill="#fff"/>
<rect x="1701.91" y="2227.70" width="8.42" height="4.60" fill="#fff"/>
<rect x="2067.71" y="2227.70" width="8.78" height="4.60" fill="#fff"/>
<rect x="2080.51" y="2227.70" width="8.42" height="4.60" fill="#fff"/>
<g>
<rect x="250" y="83.30" width="58" height="5" fill="#0000FF"/>
<ellipse cx="279.00" cy="85.80" rx="15.5" ry="17" fill="#0000FF"/>
<text x="339.6" y="101.10" font-size="45.5">PCL</text>
<rect x="250" y="175.35" width="58" height="5" fill="#FF0000"/>
<rect x="261.10" y="161.35" width="35.8" height="33" fill="#FF0000"/>
<text x="339.6" y="193.15" font-size="45.5">0.2PDA</text>
<rect x="250" y="267.40" width="58" height="5" fill="#00C000"/>
<polygon points="279.00,252.15 296.50,287.65 261.50,287.65" fill="#00C000"/>
<text x="339.6" y="285.20" font-size="45.5">2PDA</text>
<rect x="250" y="359.45" width="58" height="5" fill="#CC00E6"/>
<polygon points="261.50,345.45 296.50,345.45 279.00,378.45" fill="#CC00E6"/>
<text x="339.6" y="377.25" font-size="45.5">20PDA</text>
<rect x="250" y="451.50" width="58" height="5" fill="#FF8000"/>
<polygon points="279.00,437.50 291.50,454.00 279.00,470.50 266.50,454.00" fill="#FF8000"/>
<text x="339.6" y="469.30" font-size="45.5">0.2PDA-Au</text>
<rect x="250" y="543.55" width="58" height="5" fill="#000000"/>
<ellipse cx="279.00" cy="546.05" rx="18" ry="19" fill="#000000"/>
<text x="339.6" y="561.35" font-size="45.5">2PDA-Au</text>
<rect x="250" y="635.60" width="58" height="5" fill="#A0620F"/>
<rect x="261.15" y="618.60" width="35.7" height="39" fill="#A0620F"/>
<text x="339.6" y="653.40" font-size="45.5">20PDA-Au</text>
</g>
</svg></body></html>
